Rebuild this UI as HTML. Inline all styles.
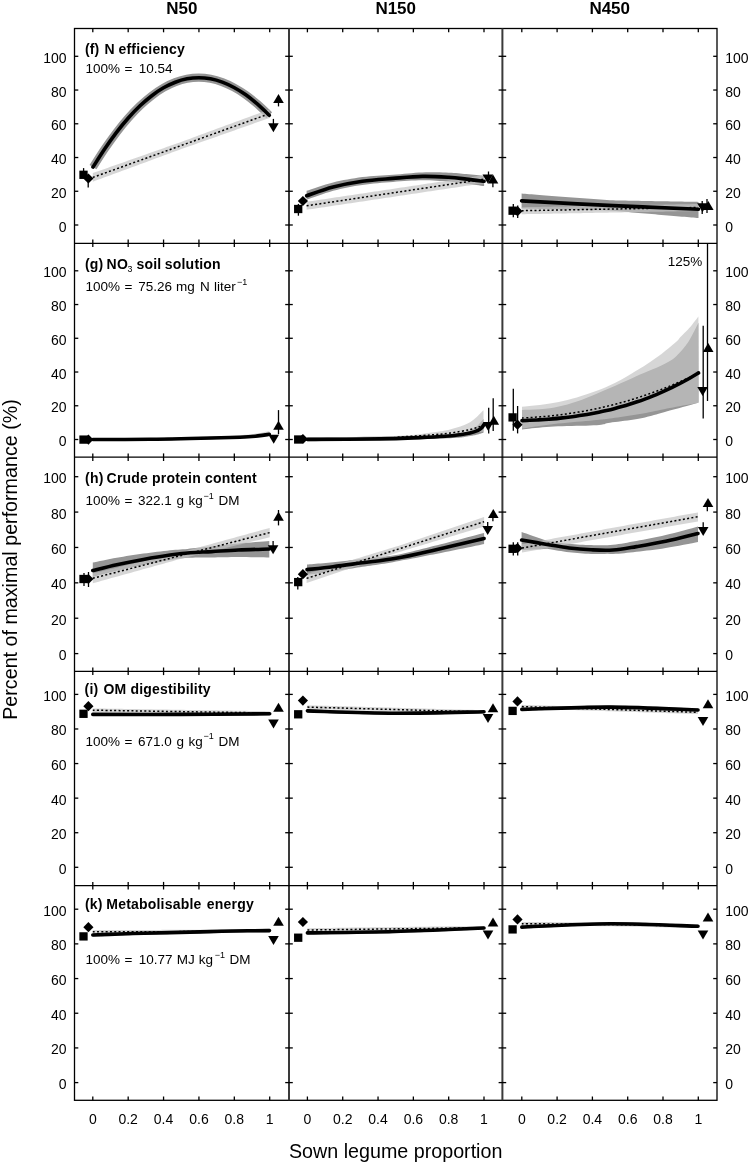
<!DOCTYPE html>
<html><head><meta charset="utf-8"><style>
html,body{margin:0;padding:0;background:#fff;width:749px;height:1163px;overflow:hidden}
svg{display:block;will-change:transform}
text{font-family:"Liberation Sans",sans-serif;fill:#000}
.t{font-size:13px}
.tk{font-size:14px}
.h{font-size:17px;font-weight:bold}
.b{font-size:14px;font-weight:bold}
.ax{font-size:19.7px}
</style></head><body>
<svg width="749" height="1163" viewBox="0 0 749 1163">
<rect width="749" height="1163" fill="#fff"/>
<g>
<path d="M93,167.1 C94.97,164.05 100.88,154.58 104.8,148.8 C108.72,143.02 112.58,137.53 116.5,132.4 C120.42,127.27 124.38,122.43 128.3,118 C132.22,113.57 136.08,109.52 140,105.8 C143.92,102.08 147.88,98.7 151.8,95.7 C155.72,92.7 159.58,90.05 163.5,87.8 C167.42,85.55 171.38,83.7 175.3,82.2 C179.22,80.7 183.08,79.55 187,78.8 C190.92,78.05 194.88,77.7 198.8,77.7 C202.72,77.7 206.58,78.07 210.5,78.8 C214.42,79.53 218.38,80.65 222.3,82.1 C226.22,83.55 230.08,85.38 234,87.5 C237.92,89.62 241.88,92.02 245.8,94.8 C249.72,97.58 253.58,100.78 257.5,104.2 C261.42,107.62 267.33,113.45 269.3,115.3" fill="none" stroke="#959595" stroke-width="8.2" stroke-linejoin="round"/>
<path d="M92.8,173.1 L95.75,172.06 L98.7,171.02 L101.64,169.98 L104.59,168.94 L107.54,167.9 L110.49,166.86 L113.44,165.82 L116.39,164.78 L119.33,163.74 L122.28,162.7 L125.23,161.66 L128.18,160.62 L131.13,159.58 L134.08,158.54 L137.02,157.5 L139.97,156.46 L142.92,155.43 L145.87,154.39 L148.82,153.35 L151.77,152.31 L154.71,151.27 L157.66,150.23 L160.61,149.19 L163.56,148.15 L166.51,147.11 L169.46,146.07 L172.4,145.03 L175.35,143.99 L178.3,142.95 L181.25,141.89 L184.2,140.8 L187.15,139.72 L190.09,138.63 L193.04,137.54 L195.99,136.46 L198.94,135.37 L201.89,134.28 L204.84,133.2 L207.78,132.11 L210.73,131.02 L213.68,129.94 L216.63,128.85 L219.58,127.77 L222.53,126.68 L225.47,125.59 L228.42,124.51 L231.37,123.42 L234.32,122.33 L237.27,121.25 L240.22,120.16 L243.16,119.07 L246.11,117.99 L249.06,116.9 L252.01,115.81 L254.96,114.73 L257.91,113.64 L260.85,112.55 L263.8,111.47 L266.75,110.38 L269.7,109.3 L269.7,117.9 L266.75,118.95 L263.8,119.99 L260.85,121.03 L257.91,122.07 L254.96,123.11 L252.01,124.15 L249.06,125.19 L246.11,126.23 L243.16,127.27 L240.22,128.31 L237.27,129.35 L234.32,130.39 L231.37,131.43 L228.42,132.47 L225.47,133.51 L222.53,134.55 L219.58,135.59 L216.63,136.63 L213.68,137.67 L210.73,138.71 L207.78,139.75 L204.84,140.79 L201.89,141.83 L198.94,142.87 L195.99,143.91 L193.04,144.95 L190.09,145.99 L187.15,147.03 L184.2,148.07 L181.25,149.11 L178.3,150.18 L175.35,151.26 L172.4,152.35 L169.46,153.44 L166.51,154.53 L163.56,155.61 L160.61,156.7 L157.66,157.79 L154.71,158.87 L151.77,159.96 L148.82,161.05 L145.87,162.13 L142.92,163.22 L139.97,164.31 L137.02,165.4 L134.08,166.48 L131.13,167.57 L128.18,168.66 L125.23,169.74 L122.28,170.83 L119.33,171.92 L116.39,173.01 L113.44,174.09 L110.49,175.18 L107.54,176.27 L104.59,177.35 L101.64,178.44 L98.7,179.53 L95.75,180.61 L92.8,181.7Z" fill="#c3c3c3" fill-opacity="0.686"/>
<path d="M92.8,177.4 L269.7,113.6" fill="none" stroke="#000" stroke-width="1.5" stroke-dasharray="2 2.3"/>
<path d="M93,167.1 C94.97,164.05 100.88,154.58 104.8,148.8 C108.72,143.02 112.58,137.53 116.5,132.4 C120.42,127.27 124.38,122.43 128.3,118 C132.22,113.57 136.08,109.52 140,105.8 C143.92,102.08 147.88,98.7 151.8,95.7 C155.72,92.7 159.58,90.05 163.5,87.8 C167.42,85.55 171.38,83.7 175.3,82.2 C179.22,80.7 183.08,79.55 187,78.8 C190.92,78.05 194.88,77.7 198.8,77.7 C202.72,77.7 206.58,78.07 210.5,78.8 C214.42,79.53 218.38,80.65 222.3,82.1 C226.22,83.55 230.08,85.38 234,87.5 C237.92,89.62 241.88,92.02 245.8,94.8 C249.72,97.58 253.58,100.78 257.5,104.2 C261.42,107.62 267.33,113.45 269.3,115.3" fill="none" stroke="#000" stroke-width="3.6" stroke-linecap="round" stroke-linejoin="round"/>
<line x1="83.6" y1="168.1" x2="83.6" y2="175" stroke="#000" stroke-width="1.3"/>
<rect x="79.35" y="170.65" width="8.3" height="8.3" fill="#000"/>
<line x1="88.2" y1="178" x2="88.2" y2="187.6" stroke="#000" stroke-width="1.3"/>
<path d="M88.4,173.4 L93.5,178.5 L88.4,183.6 L83.3,178.5 Z" fill="#000"/>
<line x1="278.5" y1="99" x2="278.5" y2="106.4" stroke="#000" stroke-width="1.3"/>
<path d="M278.5,94 L283.8,103 L273.2,103 Z" fill="#000"/>
<line x1="273.4" y1="118.9" x2="273.4" y2="127" stroke="#000" stroke-width="1.3"/>
<path d="M268.1,123.3 L278.7,123.3 L273.4,132.3 Z" fill="#000"/>
</g>
<g>
<path d="M306.6,190.81 L308.63,190.14 L311.3,189.23 L314.47,188.15 L318.02,186.95 L321.79,185.72 L325.66,184.51 L329.47,183.39 L333.1,182.43 L336.62,181.6 L340.2,180.81 L343.83,180.08 L347.49,179.39 L351.19,178.74 L354.92,178.15 L358.66,177.6 L362.4,177.1 L366.17,176.66 L369.99,176.29 L373.83,175.98 L377.69,175.71 L381.56,175.47 L385.4,175.24 L389.22,175.02 L393,174.79 L396.75,174.54 L400.5,174.26 L404.24,173.87 L407.96,173.49 L411.65,173.14 L415.29,172.83 L418.88,172.58 L422.4,172.39 L425.9,172.28 L429.42,172.23 L432.91,172.24 L436.34,172.29 L439.68,172.37 L442.89,172.47 L445.94,172.59 L448.8,172.7 L451.42,172.82 L453.82,172.96 L456.04,173.12 L458.14,173.3 L460.18,173.49 L462.2,173.69 L464.26,173.9 L466.4,174.1 L468.73,174.32 L471.23,174.56 L473.81,174.82 L476.35,175.09 L478.75,175.34 L480.92,175.57 L482.73,175.76 L484.1,175.9 L484.1,186.1 L482.73,185.91 L480.92,185.65 L478.75,185.34 L476.35,184.99 L473.81,184.63 L471.23,184.28 L468.73,183.93 L466.4,183.63 L464.26,183.34 L462.2,183.06 L460.18,182.79 L458.14,182.52 L456.04,182.26 L453.82,182.01 L451.42,181.77 L448.8,181.56 L445.94,181.34 L442.89,181.11 L439.68,180.88 L436.34,180.67 L432.91,180.49 L429.42,180.36 L425.9,180.27 L422.4,180.25 L418.88,180.3 L415.29,180.41 L411.65,180.58 L407.96,180.79 L404.24,181.03 L400.5,181.28 L396.75,181.61 L393,181.94 L389.22,182.25 L385.4,182.55 L381.56,182.86 L377.69,183.18 L373.83,183.53 L369.99,183.93 L366.17,184.38 L362.4,184.9 L358.66,185.48 L354.92,186.11 L351.19,186.78 L347.49,187.5 L343.83,188.27 L340.2,189.09 L336.62,189.95 L333.1,190.86 L329.47,191.89 L325.66,193.09 L321.79,194.38 L318.02,195.7 L314.47,196.97 L311.3,198.12 L308.63,199.09 L306.6,199.8Z" fill="#959595"/>
<path d="M306.6,201.8 L309.56,201.36 L312.51,200.91 L315.47,200.47 L318.43,200.03 L321.38,199.58 L324.34,199.14 L327.3,198.7 L330.25,198.25 L333.21,197.81 L336.17,197.37 L339.12,196.92 L342.08,196.48 L345.04,196.04 L347.99,195.59 L350.95,195.15 L353.91,194.71 L356.86,194.26 L359.82,193.82 L362.78,193.38 L365.73,192.93 L368.69,192.49 L371.65,192.05 L374.6,191.6 L377.56,191.16 L380.52,190.72 L383.47,190.27 L386.43,189.83 L389.39,189.39 L392.34,188.94 L395.3,188.5 L398.26,188.06 L401.21,187.61 L404.17,187.17 L407.13,186.73 L410.08,186.28 L413.04,185.84 L416,185.4 L418.95,184.95 L421.91,184.51 L424.87,184.07 L427.82,183.62 L430.78,183.18 L433.74,182.74 L436.69,182.29 L439.65,181.85 L442.61,181.41 L445.56,180.96 L448.52,180.52 L451.48,180.08 L454.43,179.63 L457.39,179.19 L460.35,178.75 L463.3,178.3 L466.26,177.86 L469.22,177.42 L472.17,176.97 L475.13,176.53 L478.09,176.09 L481.04,175.64 L484,175.2 L484,183.2 L481.04,183.64 L478.09,184.09 L475.13,184.53 L472.17,184.97 L469.22,185.42 L466.26,185.86 L463.3,186.3 L460.35,186.75 L457.39,187.19 L454.43,187.63 L451.48,188.08 L448.52,188.52 L445.56,188.96 L442.61,189.41 L439.65,189.85 L436.69,190.29 L433.74,190.74 L430.78,191.18 L427.82,191.62 L424.87,192.07 L421.91,192.51 L418.95,192.95 L416,193.4 L413.04,193.84 L410.08,194.28 L407.13,194.73 L404.17,195.17 L401.21,195.61 L398.26,196.06 L395.3,196.5 L392.34,196.94 L389.39,197.39 L386.43,197.83 L383.47,198.27 L380.52,198.72 L377.56,199.16 L374.6,199.6 L371.65,200.05 L368.69,200.49 L365.73,200.93 L362.78,201.38 L359.82,201.82 L356.86,202.26 L353.91,202.71 L350.95,203.15 L347.99,203.59 L345.04,204.04 L342.08,204.48 L339.12,204.92 L336.17,205.37 L333.21,205.81 L330.25,206.25 L327.3,206.7 L324.34,207.14 L321.38,207.58 L318.43,208.03 L315.47,208.47 L312.51,208.91 L309.56,209.36 L306.6,209.8Z" fill="#c3c3c3" fill-opacity="0.686"/>
<path d="M306.6,205.8 L484,179.2" fill="none" stroke="#000" stroke-width="1.5" stroke-dasharray="2 2.3"/>
<path d="M306.6,195.8 C311.02,194.33 323.8,189.43 333.1,187 C342.4,184.57 352.42,182.63 362.4,181.2 C372.38,179.77 383,179.2 393,178.4 C403,177.6 413.1,176.58 422.4,176.4 C431.7,176.22 441.47,176.85 448.8,177.3 C456.13,177.75 460.52,178.43 466.4,179.1 C472.28,179.77 481.15,180.93 484.1,181.3" fill="none" stroke="#000" stroke-width="3.6" stroke-linecap="round" stroke-linejoin="round"/>
<line x1="298.4" y1="203.9" x2="298.4" y2="215.7" stroke="#000" stroke-width="1.3"/>
<rect x="294.05" y="204.85" width="8.3" height="8.3" fill="#000"/>
<path d="M302.9,195.9 L308,201 L302.9,206.1 L297.8,201 Z" fill="#000"/>
<line x1="488.5" y1="171.5" x2="488.5" y2="179" stroke="#000" stroke-width="1.3"/>
<path d="M482.5,174.4 L493.1,174.4 L487.8,183.4 Z" fill="#000"/>
<line x1="492.9" y1="179" x2="492.9" y2="187.2" stroke="#000" stroke-width="1.3"/>
<path d="M493,174.5 L498.3,183.5 L487.7,183.5 Z" fill="#000"/>
</g>
<g>
<path d="M521.6,193.61 L523.23,193.74 L525.05,193.87 L527.06,194.03 L529.26,194.19 L531.61,194.37 L534.12,194.57 L536.78,194.77 L539.57,194.98 L542.49,195.21 L545.51,195.44 L548.64,195.68 L551.86,195.92 L555.16,196.17 L558.53,196.43 L561.96,196.69 L565.43,196.96 L568.94,197.22 L572.48,197.49 L576.03,197.76 L579.59,198.02 L583.13,198.29 L586.67,198.55 L590.17,198.81 L593.64,199.07 L597.05,199.32 L600.4,199.57 L603.69,199.8 L606.89,200.04 L610,200.26 L613,200.33 L615.99,200.4 L619.05,200.46 L622.17,200.53 L625.35,200.6 L628.58,200.66 L631.85,200.73 L635.14,200.79 L638.45,200.85 L641.78,200.92 L645.1,200.98 L648.42,201.04 L651.73,201.1 L655.01,201.15 L658.26,201.21 L661.46,201.27 L664.62,201.32 L667.71,201.37 L670.74,201.42 L673.69,201.47 L676.55,201.52 L679.32,201.57 L681.98,201.61 L684.54,201.65 L686.97,201.69 L689.27,201.73 L691.43,201.77 L693.44,201.8 L695.29,201.83 L696.98,201.86 L698.5,201.9 L698.5,218 L696.98,217.89 L695.29,217.75 L693.44,217.59 L691.43,217.42 L689.27,217.24 L686.97,217.05 L684.54,216.85 L681.98,216.64 L679.32,216.41 L676.55,216.18 L673.69,215.94 L670.74,215.69 L667.71,215.44 L664.62,215.18 L661.46,214.92 L658.26,214.65 L655.01,214.37 L651.73,214.09 L648.42,213.81 L645.1,213.53 L641.78,213.25 L638.45,212.96 L635.14,212.68 L631.85,212.39 L628.58,212.11 L625.35,211.83 L622.17,211.55 L619.05,211.27 L615.99,211 L613,210.73 L610,210.46 L606.89,210.4 L603.69,210.34 L600.4,210.27 L597.05,210.2 L593.64,210.13 L590.17,210.06 L586.67,209.98 L583.13,209.91 L579.59,209.83 L576.03,209.75 L572.48,209.67 L568.94,209.59 L565.43,209.51 L561.96,209.43 L558.53,209.35 L555.16,209.27 L551.86,209.19 L548.64,209.12 L545.51,209.04 L542.49,208.97 L539.57,208.9 L536.78,208.84 L534.12,208.77 L531.61,208.71 L529.26,208.66 L527.06,208.61 L525.05,208.56 L523.23,208.52 L521.6,208.48Z" fill="#959595"/>
<path d="M521.6,207.2 L524.54,207.15 L527.48,207.09 L530.42,207.04 L533.36,206.99 L536.3,206.93 L539.24,206.88 L542.18,206.83 L545.12,206.77 L548.06,206.72 L551,206.67 L553.94,206.61 L556.88,206.56 L559.82,206.51 L562.76,206.45 L565.7,206.4 L568.64,206.35 L571.58,206.29 L574.52,206.24 L577.46,206.19 L580.4,206.13 L583.34,206.08 L586.28,206.03 L589.22,205.97 L592.16,205.92 L595.1,205.87 L598.04,205.81 L600.98,205.76 L603.92,205.71 L606.86,205.65 L609.8,205.6 L612.74,205.55 L615.68,205.49 L618.62,205.44 L621.56,205.39 L624.5,205.33 L627.44,205.28 L630.38,205.23 L633.32,205.17 L636.26,205.12 L639.2,205.07 L642.14,205.01 L645.08,204.96 L648.02,204.91 L650.96,204.85 L653.9,204.8 L656.84,204.75 L659.78,204.69 L662.72,204.64 L665.66,204.59 L668.6,204.53 L671.54,204.48 L674.48,204.43 L677.42,204.37 L680.36,204.32 L683.3,204.27 L686.24,204.21 L689.18,204.16 L692.12,204.11 L695.06,204.05 L698,204 L698,211 L695.06,211.05 L692.12,211.11 L689.18,211.16 L686.24,211.21 L683.3,211.27 L680.36,211.32 L677.42,211.37 L674.48,211.43 L671.54,211.48 L668.6,211.53 L665.66,211.59 L662.72,211.64 L659.78,211.69 L656.84,211.75 L653.9,211.8 L650.96,211.85 L648.02,211.91 L645.08,211.96 L642.14,212.01 L639.2,212.07 L636.26,212.12 L633.32,212.17 L630.38,212.23 L627.44,212.28 L624.5,212.33 L621.56,212.39 L618.62,212.44 L615.68,212.49 L612.74,212.55 L609.8,212.6 L606.86,212.65 L603.92,212.71 L600.98,212.76 L598.04,212.81 L595.1,212.87 L592.16,212.92 L589.22,212.97 L586.28,213.03 L583.34,213.08 L580.4,213.13 L577.46,213.19 L574.52,213.24 L571.58,213.29 L568.64,213.35 L565.7,213.4 L562.76,213.45 L559.82,213.51 L556.88,213.56 L553.94,213.61 L551,213.67 L548.06,213.72 L545.12,213.77 L542.18,213.83 L539.24,213.88 L536.3,213.93 L533.36,213.99 L530.42,214.04 L527.48,214.09 L524.54,214.15 L521.6,214.2Z" fill="#c3c3c3" fill-opacity="0.686"/>
<path d="M521.6,210.7 L698,207.5" fill="none" stroke="#000" stroke-width="1.5" stroke-dasharray="2 2.3"/>
<path d="M521.6,200.9 C536.83,201.68 583.52,204.22 613,205.6 C642.48,206.98 684.25,208.6 698.5,209.2" fill="none" stroke="#000" stroke-width="3.6" stroke-linecap="round" stroke-linejoin="round"/>
<line x1="513.3" y1="204" x2="513.3" y2="217.3" stroke="#000" stroke-width="1.3"/>
<rect x="508.45" y="206.55" width="8.3" height="8.3" fill="#000"/>
<line x1="517.7" y1="205.6" x2="517.7" y2="218" stroke="#000" stroke-width="1.3"/>
<path d="M517.5,206.1 L522.6,211.2 L517.5,216.3 L512.4,211.2 Z" fill="#000"/>
<line x1="702.2" y1="201" x2="702.2" y2="214" stroke="#000" stroke-width="1.3"/>
<path d="M697.2,203.3 L707.8,203.3 L702.5,212.3 Z" fill="#000"/>
<line x1="707" y1="199" x2="707" y2="213" stroke="#000" stroke-width="1.3"/>
<path d="M708.3,201.1 L713.6,210.1 L703,210.1 Z" fill="#000"/>
</g>
<g>
<path d="M92.8,438.3 L95.62,438.29 L99.22,438.29 L103.48,438.28 L108.27,438.27 L113.45,438.26 L118.9,438.25 L124.49,438.24 L130.09,438.22 L135.57,438.2 L140.8,438.17 L145.65,438.14 L150,438.1 L153.9,438.06 L157.55,438.01 L160.97,437.95 L164.24,437.9 L167.38,437.83 L170.45,437.77 L173.5,437.7 L176.56,437.63 L179.7,437.55 L182.95,437.47 L186.37,437.39 L190,437.3 L193.92,437.21 L198.13,437.11 L202.55,437.01 L207.11,436.9 L211.74,436.79 L216.38,436.68 L220.93,436.57 L225.33,436.45 L229.52,436.34 L233.4,436.22 L236.92,436.11 L240,436 L242.64,435.89 L244.93,435.79 L246.91,435.68 L248.62,435.58 L250.11,435.47 L251.42,435.37 L252.6,435.26 L253.68,435.16 L254.72,435.05 L255.76,434.93 L256.84,434.82 L258,434.7 L259.21,434.57 L260.4,434.43 L261.56,434.28 L262.68,434.13 L263.76,433.97 L264.78,433.82 L265.73,433.67 L266.62,433.53 L267.43,433.39 L268.15,433.28 L268.78,433.18 L269.3,433.1 L269.3,435.5 L268.78,435.58 L268.15,435.68 L267.43,435.79 L266.62,435.93 L265.73,436.07 L264.78,436.22 L263.76,436.37 L262.68,436.53 L261.56,436.68 L260.4,436.83 L259.21,436.97 L258,437.1 L256.84,437.22 L255.76,437.33 L254.72,437.45 L253.68,437.56 L252.6,437.66 L251.42,437.77 L250.11,437.87 L248.62,437.98 L246.91,438.08 L244.93,438.19 L242.64,438.29 L240,438.4 L236.92,438.51 L233.4,438.62 L229.52,438.74 L225.33,438.85 L220.93,438.97 L216.38,439.08 L211.74,439.19 L207.11,439.3 L202.55,439.41 L198.13,439.51 L193.92,439.61 L190,439.7 L186.37,439.79 L182.95,439.87 L179.7,439.95 L176.56,440.03 L173.5,440.1 L170.45,440.17 L167.38,440.23 L164.24,440.3 L160.97,440.35 L157.55,440.41 L153.9,440.46 L150,440.5 L145.65,440.54 L140.8,440.57 L135.57,440.6 L130.09,440.62 L124.49,440.64 L118.9,440.65 L113.45,440.66 L108.27,440.67 L103.48,440.68 L99.22,440.69 L95.62,440.69 L92.8,440.7Z" fill="#959595"/>
<path d="M92.8,438.6 L95.62,438.58 L99.22,438.55 L103.48,438.53 L108.27,438.5 L113.45,438.47 L118.9,438.43 L124.49,438.39 L130.09,438.35 L135.57,438.31 L140.8,438.26 L145.65,438.21 L150,438.15 L153.9,438.09 L157.55,438.02 L160.97,437.96 L164.24,437.89 L167.38,437.82 L170.45,437.74 L173.5,437.66 L176.56,437.57 L179.7,437.48 L182.95,437.39 L186.37,437.28 L190,437.17 L193.92,437.06 L198.13,436.93 L202.55,436.79 L207.11,436.65 L211.74,436.5 L216.38,436.35 L220.93,436.2 L225.33,436.05 L229.52,435.89 L233.4,435.67 L236.92,435.45 L240,435.24 L242.64,435.05 L244.93,434.87 L246.91,434.7 L248.62,434.54 L250.11,434.38 L251.42,434.23 L252.6,434.07 L253.68,433.92 L254.72,433.77 L255.76,433.61 L256.84,433.45 L258,433.28 L259.21,433.1 L260.4,432.9 L261.56,432.7 L262.68,432.49 L263.76,432.27 L264.78,432.06 L265.73,431.86 L266.62,431.67 L267.43,431.49 L268.15,431.33 L268.78,431.2 L269.3,431.1 L269.3,434.6 L268.78,434.69 L268.15,434.81 L267.43,434.95 L266.62,435.11 L265.73,435.28 L264.78,435.46 L263.76,435.64 L262.68,435.83 L261.56,436.01 L260.4,436.18 L259.21,436.35 L258,436.5 L256.84,436.64 L255.76,436.77 L254.72,436.9 L253.68,437.03 L252.6,437.15 L251.42,437.27 L250.11,437.4 L248.62,437.51 L246.91,437.63 L244.93,437.75 L242.64,437.88 L240,438 L236.92,438.13 L233.4,438.26 L229.52,438.39 L225.33,438.53 L220.93,438.66 L216.38,438.79 L211.74,438.92 L207.11,439.05 L202.55,439.17 L198.13,439.29 L193.92,439.4 L190,439.5 L186.37,439.59 L182.95,439.68 L179.7,439.76 L176.56,439.84 L173.5,439.91 L170.45,439.98 L167.38,440.04 L164.24,440.1 L160.97,440.16 L157.55,440.21 L153.9,440.26 L150,440.3 L145.65,440.34 L140.8,440.37 L135.57,440.4 L130.09,440.42 L124.49,440.44 L118.9,440.45 L113.45,440.46 L108.27,440.47 L103.48,440.48 L99.22,440.49 L95.62,440.49 L92.8,440.5Z" fill="#c3c3c3" fill-opacity="0.686"/>
<path d="M92.8,439.5 C102.33,439.47 133.8,439.47 150,439.3 C166.2,439.13 175,438.88 190,438.5 C205,438.12 228.67,437.5 240,437 C251.33,436.5 253.12,436.07 258,435.5 C262.88,434.93 267.42,433.92 269.3,433.6" fill="none" stroke="#000" stroke-width="1.5" stroke-dasharray="2 2.3"/>
<path d="M92.8,439.5 C102.33,439.47 133.8,439.47 150,439.3 C166.2,439.13 175,438.85 190,438.5 C205,438.15 228.67,437.63 240,437.2 C251.33,436.77 253.12,436.38 258,435.9 C262.88,435.42 267.42,434.57 269.3,434.3" fill="none" stroke="#000" stroke-width="3.6" stroke-linecap="round" stroke-linejoin="round"/>
<rect x="79.35" y="435.45" width="8.3" height="8.3" fill="#000"/>
<path d="M88.4,434.5 L93.5,439.6 L88.4,444.7 L83.3,439.6 Z" fill="#000"/>
<line x1="278.5" y1="410.1" x2="278.5" y2="434.2" stroke="#000" stroke-width="1.3"/>
<path d="M278.5,420.8 L283.8,429.8 L273.2,429.8 Z" fill="#000"/>
<path d="M268.4,434.8 L279,434.8 L273.7,443.8 Z" fill="#000"/>
</g>
<g>
<path d="M307.4,437.6 L311.16,437.54 L315.75,437.47 L321.09,437.4 L327.08,437.33 L333.63,437.25 L340.67,437.16 L348.09,437.06 L355.82,436.97 L363.76,436.86 L371.82,436.75 L379.93,436.63 L387.98,436.51 L395.9,436.38 L403.58,436.25 L410.96,436.1 L417.92,435.96 L424.4,435.8 L430.3,435.64 L435.53,435.47 L440,435.3 L443.83,435.12 L447.23,434.95 L450.22,434.78 L452.83,434.61 L455.1,434.43 L457.06,434.25 L458.74,434.07 L460.18,433.88 L461.4,433.68 L462.44,433.48 L463.34,433.26 L464.11,433.02 L464.8,432.77 L465.44,432.51 L466.06,432.23 L466.7,431.93 L467.38,431.61 L468.13,431.26 L468.99,430.89 L470,430.5 L471.06,430.06 L472.08,429.57 L473.05,429.03 L473.97,428.44 L474.85,427.83 L475.69,427.18 L476.48,426.51 L477.24,425.83 L477.95,425.14 L478.62,424.45 L479.26,423.77 L479.86,423.09 L480.43,422.44 L480.96,421.82 L481.46,421.22 L481.93,420.67 L482.36,420.17 L482.77,419.71 L483.15,419.32 L483.5,419 L483.5,432.7 L483.15,432.79 L482.77,432.9 L482.36,433.02 L481.93,433.16 L481.46,433.31 L480.96,433.47 L480.43,433.64 L479.86,433.82 L479.26,434 L478.62,434.19 L477.95,434.38 L477.24,434.57 L476.48,434.77 L475.69,434.96 L474.85,435.15 L473.97,435.33 L473.05,435.51 L472.08,435.68 L471.06,435.85 L470,436 L468.99,436.15 L468.13,436.29 L467.38,436.43 L466.7,436.56 L466.06,436.7 L465.44,436.83 L464.8,436.96 L464.11,437.09 L463.34,437.21 L462.44,437.34 L461.4,437.46 L460.18,437.59 L458.74,437.71 L457.06,437.83 L455.1,437.96 L452.83,438.08 L450.22,438.21 L447.23,438.34 L443.83,438.47 L440,438.6 L435.53,438.74 L430.3,438.88 L424.4,439.03 L417.92,439.18 L410.96,439.33 L403.58,439.49 L395.9,439.65 L387.98,439.8 L379.93,439.96 L371.82,440.11 L363.76,440.26 L355.82,440.41 L348.09,440.55 L340.67,440.69 L333.63,440.81 L327.08,440.93 L321.09,441.04 L315.75,441.14 L311.16,441.23 L307.4,441.3Z" fill="#959595"/>
<path d="M307.4,438 L312.07,437.9 L318.2,437.77 L325.51,437.63 L333.73,437.46 L342.59,437.28 L351.83,437.09 L361.17,436.89 L370.34,436.68 L379.08,436.46 L387.12,436.24 L394.18,436.02 L400,435.8 L404.72,435.57 L408.74,435.34 L412.14,435.09 L415.01,434.84 L417.44,434.58 L419.54,434.31 L421.38,434.04 L423.06,433.77 L424.67,433.5 L426.3,433.23 L428.05,432.96 L430,432.7 L432.02,432.45 L433.91,432.22 L435.7,432 L437.41,431.79 L439.04,431.58 L440.62,431.36 L442.17,431.13 L443.7,430.87 L445.23,430.59 L446.78,430.27 L448.37,429.91 L450,429.5 L451.69,429.05 L453.41,428.57 L455.15,428.07 L456.91,427.54 L458.66,426.99 L460.41,426.4 L462.13,425.78 L463.81,425.13 L465.46,424.45 L467.04,423.74 L468.56,422.99 L470,422.2 L471.4,421.33 L472.78,420.33 L474.15,419.25 L475.48,418.1 L476.77,416.93 L478,415.74 L479.16,414.59 L480.24,413.49 L481.23,412.47 L482.11,411.56 L482.87,410.79 L483.5,410.2 L483.5,431.8 L483.01,431.82 L482.43,431.84 L481.77,431.86 L481.04,431.88 L480.24,431.9 L479.38,431.92 L478.47,431.95 L477.52,431.98 L476.52,432.02 L475.48,432.07 L474.42,432.13 L473.33,432.2 L472.23,432.29 L471.12,432.39 L470,432.5 L468.92,432.63 L467.89,432.78 L466.9,432.95 L465.91,433.13 L464.93,433.32 L463.91,433.52 L462.84,433.73 L461.7,433.95 L460.47,434.17 L459.13,434.39 L457.65,434.62 L456.02,434.84 L454.22,435.07 L452.22,435.29 L450,435.5 L447.63,435.71 L445.16,435.94 L442.6,436.17 L439.93,436.4 L437.13,436.64 L434.2,436.88 L431.13,437.11 L427.9,437.35 L424.51,437.58 L420.93,437.81 L417.17,438.03 L413.21,438.24 L409.03,438.44 L404.63,438.63 L400,438.8 L394.87,438.96 L389.07,439.12 L382.72,439.27 L375.95,439.41 L368.86,439.55 L361.58,439.68 L354.24,439.8 L346.94,439.91 L339.82,440.02 L332.99,440.12 L326.56,440.21 L320.68,440.29 L315.44,440.37 L310.97,440.44 L307.4,440.5Z" fill="#c3c3c3" fill-opacity="0.686"/>
<path d="M307.4,439.3 C319.5,439.17 364.57,438.88 380,438.5 C395.43,438.12 391.67,437.58 400,437 C408.33,436.42 421.67,435.65 430,435 C438.33,434.35 443.33,434.02 450,433.1 C456.67,432.18 464.42,430.78 470,429.5 C475.58,428.22 481.25,426.08 483.5,425.4" fill="none" stroke="#000" stroke-width="1.5" stroke-dasharray="2 2.3"/>
<path d="M307.4,439.4 C319.5,439.32 361.23,439.2 380,438.9 C398.77,438.6 409.17,438.03 420,437.6 C430.83,437.17 438.33,436.78 445,436.3 C451.67,435.82 455.83,435.25 460,434.7 C464.17,434.15 467,433.73 470,433 C473,432.27 476.08,431.13 478,430.3 C479.92,429.47 480.5,428.97 481.5,428 C482.5,427.03 483.58,425.08 484,424.5" fill="none" stroke="#000" stroke-width="3.6" stroke-linecap="round" stroke-linejoin="round"/>
<rect x="294.05" y="435.35" width="8.3" height="8.3" fill="#000"/>
<path d="M302.9,433.9 L308,439 L302.9,444.1 L297.8,439 Z" fill="#000"/>
<line x1="488.7" y1="407.8" x2="488.7" y2="433.5" stroke="#000" stroke-width="1.3"/>
<path d="M482.9,422.1 L493.5,422.1 L488.2,431.1 Z" fill="#000"/>
<line x1="493.2" y1="398.2" x2="493.2" y2="431" stroke="#000" stroke-width="1.3"/>
<path d="M493.8,415.7 L499.1,424.7 L488.5,424.7 Z" fill="#000"/>
</g>
<g>
<path d="M522,410 L525.06,409.86 L529.3,409.71 L534.33,409.52 L539.72,409.23 L545.08,408.8 L550,408.2 L554.46,407.45 L558.79,406.58 L563.08,405.58 L567.44,404.42 L571.98,403.07 L576.8,401.5 L582,399.64 L587.51,397.5 L593.2,395.17 L598.93,392.74 L604.58,390.32 L610,388 L615.32,385.7 L620.66,383.32 L625.91,380.95 L630.96,378.66 L635.69,376.51 L640,374.6 L643.83,372.96 L647.24,371.54 L650.35,370.28 L653.23,369.1 L655.99,367.93 L658.7,366.7 L661.36,365.45 L663.89,364.24 L666.28,363.04 L668.55,361.82 L670.69,360.55 L672.7,359.2 L674.57,357.74 L676.28,356.2 L677.87,354.61 L679.35,353.01 L680.75,351.42 L682.1,349.9 L683.36,348.46 L684.51,347.07 L685.59,345.71 L686.61,344.33 L687.6,342.91 L688.6,341.4 L689.6,339.78 L690.59,338.06 L691.54,336.29 L692.47,334.53 L693.36,332.82 L694.2,331.2 L695.03,329.6 L695.86,327.96 L696.65,326.36 L697.36,324.91 L697.96,323.69 L698.4,322.8 L698.6,402.6 L696.49,403.19 L693.72,403.96 L690.43,404.88 L686.74,405.91 L682.8,407.01 L678.74,408.14 L674.69,409.26 L670.8,410.34 L667.19,411.33 L664,412.2 L661.2,412.97 L658.62,413.7 L656.21,414.4 L653.92,415.06 L651.71,415.69 L649.52,416.29 L647.31,416.87 L645.01,417.43 L642.6,417.97 L640,418.5 L637.17,419.01 L634.12,419.5 L630.91,419.97 L627.63,420.41 L624.33,420.84 L621.08,421.24 L617.95,421.63 L615.02,422 L612.35,422.36 L610,422.7 L608.13,423.02 L606.76,423.33 L605.74,423.61 L604.93,423.88 L604.2,424.13 L603.4,424.37 L602.41,424.59 L601.07,424.8 L599.24,425.01 L596.8,425.2 L593.67,425.37 L589.96,425.51 L585.8,425.63 L581.29,425.73 L576.57,425.82 L571.76,425.92 L566.98,426.03 L562.34,426.16 L557.98,426.31 L554,426.5 L550.22,426.74 L546.4,427.02 L542.6,427.34 L538.89,427.68 L535.33,428.03 L531.98,428.37 L528.91,428.69 L526.18,428.98 L523.86,429.22 L522,429.4Z" fill="#959595"/>
<path d="M522,406.7 L525.06,406.39 L529.3,405.98 L534.33,405.48 L539.72,404.9 L545.08,404.24 L550,403.5 L554.46,402.72 L558.79,401.9 L563.08,401.01 L567.44,399.99 L571.98,398.8 L576.8,397.4 L582,395.78 L587.51,393.99 L593.2,392.02 L598.93,389.9 L604.58,387.66 L610,385.3 L615.32,382.72 L620.66,379.89 L625.91,376.93 L630.96,373.96 L635.69,371.11 L640,368.5 L643.79,366.19 L647.12,364.07 L650.14,362.07 L652.99,360.12 L655.8,358.12 L658.7,356 L661.82,353.64 L665.06,351.09 L668.27,348.5 L671.27,346.02 L673.9,343.8 L676,342 L677.38,340.75 L678.14,339.96 L678.53,339.43 L678.8,338.97 L679.21,338.39 L680,337.5 L681.24,336.23 L682.75,334.72 L684.39,333.09 L686.03,331.45 L687.54,329.91 L688.8,328.6 L689.75,327.55 L690.5,326.69 L691.11,325.93 L691.68,325.2 L692.28,324.42 L693,323.5 L693.89,322.36 L694.91,321.05 L695.96,319.68 L696.96,318.39 L697.8,317.28 L698.4,316.5 L698.6,402.8 L696.9,403.11 L694.73,403.49 L692.17,403.95 L689.29,404.47 L686.18,405.03 L682.91,405.61 L679.58,406.22 L676.27,406.83 L673.05,407.42 L670,408 L667.06,408.57 L664.09,409.17 L661.1,409.79 L658.1,410.41 L655.09,411.04 L652.07,411.67 L649.04,412.29 L646.02,412.88 L643.01,413.46 L640,414 L636.92,414.52 L633.73,415.04 L630.47,415.55 L627.19,416.05 L623.95,416.53 L620.79,416.99 L617.77,417.42 L614.92,417.82 L612.32,418.18 L610,418.5 L608.13,418.76 L606.76,418.95 L605.74,419.09 L604.93,419.2 L604.2,419.28 L603.4,419.36 L602.41,419.46 L601.07,419.59 L599.24,419.76 L596.8,420 L593.67,420.3 L589.96,420.63 L585.8,421 L581.29,421.4 L576.57,421.81 L571.76,422.24 L566.98,422.68 L562.34,423.13 L557.98,423.57 L554,424 L550.22,424.45 L546.4,424.94 L542.6,425.45 L538.89,425.98 L535.33,426.5 L531.98,427 L528.91,427.46 L526.18,427.88 L523.86,428.23 L522,428.5Z" fill="#c3c3c3" fill-opacity="0.686"/>
<path d="M522,417.96 C523.22,417.9 526.87,417.73 529.3,417.59 C531.74,417.45 534.17,417.3 536.61,417.12 C539.04,416.94 541.48,416.74 543.91,416.53 C546.35,416.31 548.78,416.07 551.22,415.82 C553.65,415.56 556.09,415.28 558.52,414.98 C560.96,414.69 563.39,414.37 565.83,414.03 C568.26,413.69 570.7,413.33 573.13,412.95 C575.57,412.57 578,412.17 580.43,411.75 C582.87,411.33 585.3,410.88 587.74,410.42 C590.17,409.95 592.61,409.46 595.04,408.95 C597.48,408.44 599.91,407.91 602.35,407.36 C604.78,406.8 607.22,406.23 609.65,405.63 C612.09,405.03 614.52,404.41 616.96,403.76 C619.39,403.12 621.83,402.45 624.26,401.76 C626.7,401.07 629.13,400.35 631.57,399.61 C634,398.88 636.43,398.11 638.87,397.33 C641.3,396.54 643.74,395.73 646.17,394.9 C648.61,394.06 651.04,393.21 653.48,392.32 C655.91,391.44 658.35,390.53 660.78,389.6 C663.22,388.66 665.65,387.71 668.09,386.72 C670.52,385.74 672.96,384.73 675.39,383.7 C677.83,382.66 680.26,381.6 682.7,380.52 C685.13,379.43 688.78,377.74 690,377.18" fill="none" stroke="#000" stroke-width="1.5" stroke-dasharray="2 2.3"/>
<path d="M522,420.6 C523.28,420.55 527.12,420.43 529.68,420.32 C532.24,420.21 534.8,420.09 537.36,419.94 C539.92,419.8 542.48,419.64 545.03,419.46 C547.59,419.27 550.15,419.07 552.71,418.85 C555.27,418.63 557.83,418.39 560.39,418.12 C562.95,417.85 565.51,417.56 568.07,417.25 C570.63,416.93 573.19,416.6 575.75,416.23 C578.31,415.87 580.87,415.48 583.43,415.06 C585.99,414.65 588.54,414.2 591.1,413.73 C593.66,413.26 596.22,412.76 598.78,412.23 C601.34,411.69 603.9,411.13 606.46,410.54 C609.02,409.94 611.58,409.32 614.14,408.66 C616.7,408 619.26,407.31 621.82,406.59 C624.38,405.86 626.94,405.1 629.5,404.3 C632.06,403.5 634.61,402.67 637.17,401.8 C639.73,400.93 642.29,400.02 644.85,399.07 C647.41,398.12 649.97,397.14 652.53,396.11 C655.09,395.08 657.65,394.01 660.21,392.9 C662.77,391.79 665.33,390.64 667.89,389.44 C670.45,388.24 673.01,387 675.57,385.72 C678.12,384.43 680.68,383.1 683.24,381.72 C685.8,380.34 688.36,378.92 690.92,377.45 C693.48,375.98 697.32,373.65 698.6,372.89" fill="none" stroke="#000" stroke-width="3.6" stroke-linecap="round" stroke-linejoin="round"/>
<line x1="513.3" y1="388.7" x2="513.3" y2="430.7" stroke="#000" stroke-width="1.3"/>
<rect x="508.45" y="413.25" width="8.3" height="8.3" fill="#000"/>
<line x1="517.6" y1="406" x2="517.6" y2="433.4" stroke="#000" stroke-width="1.3"/>
<path d="M517.5,419.6 L522.6,424.7 L517.5,429.8 L512.4,424.7 Z" fill="#000"/>
<line x1="703.2" y1="325.8" x2="703.2" y2="418.6" stroke="#000" stroke-width="1.3"/>
<path d="M697.3,387.1 L707.9,387.1 L702.6,396.1 Z" fill="#000"/>
<line x1="707.5" y1="243.3" x2="707.5" y2="401" stroke="#000" stroke-width="1.3"/>
<path d="M708.2,343.1 L713.5,352.1 L702.9,352.1 Z" fill="#000"/>
</g>
<g>
<path d="M92.8,562.53 L94.62,562.16 L97.03,561.66 L99.89,561.07 L103.08,560.41 L106.48,559.72 L109.97,559.02 L113.42,558.36 L116.7,557.76 L119.9,557.21 L123.18,556.66 L126.51,556.12 L129.88,555.59 L133.26,555.07 L136.66,554.57 L140.04,554.08 L143.4,553.61 L146.78,553.15 L150.23,552.69 L153.71,552.24 L157.17,551.81 L160.59,551.4 L163.9,551.02 L167.09,550.67 L170.1,550.36 L172.9,550.09 L175.51,549.86 L177.98,549.67 L180.36,549.5 L182.7,549.36 L185.06,549.23 L187.47,548.89 L190,548.56 L192.59,548.24 L195.18,547.95 L197.79,547.69 L200.42,547.43 L203.12,547.17 L205.88,546.91 L208.74,546.63 L211.7,546.33 L214.77,546 L217.92,545.65 L221.16,545.28 L224.48,544.91 L227.86,544.53 L231.31,544.16 L234.83,543.8 L238.4,543.46 L242.27,543.11 L246.55,542.75 L251.04,542.39 L255.52,542.04 L259.79,541.71 L263.65,541.42 L266.89,541.17 L269.3,541 L269.3,557.4 L266.89,557.38 L263.65,557.33 L259.79,557.27 L255.52,557.21 L251.04,557.15 L246.55,557.1 L242.27,557.06 L238.4,557.05 L234.83,557.07 L231.31,557.11 L227.86,557.16 L224.48,557.23 L221.16,557.3 L217.92,557.36 L214.77,557.43 L211.7,557.48 L208.74,557.51 L205.88,557.52 L203.12,557.53 L200.42,557.54 L197.79,557.56 L195.18,557.59 L192.59,557.64 L190,557.72 L187.47,557.82 L185.06,557.93 L182.7,558.2 L180.36,558.49 L177.98,558.81 L175.51,559.16 L172.9,559.55 L170.1,559.99 L167.09,560.49 L163.9,561.03 L160.59,561.62 L157.17,562.24 L153.71,562.89 L150.23,563.56 L146.78,564.23 L143.4,564.91 L140.04,565.59 L136.66,566.29 L133.26,567 L129.88,567.73 L126.51,568.47 L123.18,569.22 L119.9,569.97 L116.7,570.72 L113.42,571.53 L109.97,572.4 L106.48,573.31 L103.08,574.22 L99.89,575.08 L97.03,575.85 L94.62,576.5 L92.8,576.98Z" fill="#959595"/>
<path d="M92.8,573.32 L95.75,572.61 L98.7,571.91 L101.64,571.2 L104.59,570.5 L107.54,569.79 L110.49,569.09 L113.44,568.38 L116.39,567.68 L119.33,566.97 L122.28,566.27 L125.23,565.56 L128.18,564.86 L131.13,564.16 L134.08,563.45 L137.02,562.75 L139.97,562.04 L142.92,561.34 L145.87,560.63 L148.82,559.93 L151.77,559.22 L154.71,558.52 L157.66,557.81 L160.61,557.11 L163.56,556.41 L166.51,555.7 L169.46,555 L172.4,554.29 L175.35,553.59 L178.3,552.88 L181.25,552.18 L184.2,551.47 L187.15,550.69 L190.09,549.87 L193.04,549.06 L195.99,548.25 L198.94,547.43 L201.89,546.62 L204.84,545.8 L207.78,544.99 L210.73,544.17 L213.68,543.36 L216.63,542.55 L219.58,541.73 L222.53,540.92 L225.47,540.1 L228.42,539.29 L231.37,538.47 L234.32,537.66 L237.27,536.84 L240.22,536.03 L243.16,535.22 L246.11,534.4 L249.06,533.59 L252.01,532.77 L254.96,531.96 L257.91,531.14 L260.85,530.33 L263.8,529.52 L266.75,528.7 L269.7,527.9 L269.7,537.3 L266.75,538.02 L263.8,538.73 L260.85,539.44 L257.91,540.15 L254.96,540.86 L252.01,541.57 L249.06,542.28 L246.11,542.98 L243.16,543.69 L240.22,544.4 L237.27,545.11 L234.32,545.82 L231.37,546.53 L228.42,547.24 L225.47,547.95 L222.53,548.66 L219.58,549.37 L216.63,550.07 L213.68,550.78 L210.73,551.49 L207.78,552.2 L204.84,552.91 L201.89,553.62 L198.94,554.33 L195.99,555.04 L193.04,555.75 L190.09,556.46 L187.15,557.16 L184.2,557.9 L181.25,558.72 L178.3,559.54 L175.35,560.36 L172.4,561.18 L169.46,562 L166.51,562.82 L163.56,563.63 L160.61,564.45 L157.66,565.27 L154.71,566.09 L151.77,566.91 L148.82,567.73 L145.87,568.55 L142.92,569.37 L139.97,570.18 L137.02,571 L134.08,571.82 L131.13,572.64 L128.18,573.46 L125.23,574.28 L122.28,575.1 L119.33,575.92 L116.39,576.73 L113.44,577.55 L110.49,578.37 L107.54,579.19 L104.59,580.01 L101.64,580.83 L98.7,581.65 L95.75,582.47 L92.8,583.28Z" fill="#c3c3c3" fill-opacity="0.686"/>
<path d="M92.8,578.3 L269.7,532.6" fill="none" stroke="#000" stroke-width="1.5" stroke-dasharray="2 2.3"/>
<path d="M92.8,570.5 C96.78,569.53 108.27,566.55 116.7,564.7 C125.13,562.85 134.5,561.02 143.4,559.4 C152.3,557.78 162.33,556.1 170.1,555 C177.87,553.9 183.07,553.37 190,552.8 C196.93,552.23 203.63,552.07 211.7,551.6 C219.77,551.13 228.8,550.43 238.4,550 C248,549.57 264.15,549.17 269.3,549" fill="none" stroke="#000" stroke-width="3.6" stroke-linecap="round" stroke-linejoin="round"/>
<line x1="84" y1="573" x2="84" y2="586" stroke="#000" stroke-width="1.3"/>
<rect x="79.35" y="574.85" width="8.3" height="8.3" fill="#000"/>
<line x1="88.5" y1="572" x2="88.5" y2="587" stroke="#000" stroke-width="1.3"/>
<path d="M88.4,573.9 L93.5,579 L88.4,584.1 L83.3,579 Z" fill="#000"/>
<line x1="278.5" y1="510" x2="278.5" y2="525.4" stroke="#000" stroke-width="1.3"/>
<path d="M278.5,511.8 L283.8,520.8 L273.2,520.8 Z" fill="#000"/>
<line x1="273.1" y1="541" x2="273.1" y2="550" stroke="#000" stroke-width="1.3"/>
<path d="M267.8,545.2 L278.4,545.2 L273.1,554.2 Z" fill="#000"/>
</g>
<g>
<path d="M307,564.6 L308.25,564.49 L309.8,564.35 L311.61,564.19 L313.65,564.01 L315.86,563.82 L318.22,563.61 L320.68,563.39 L323.2,563.16 L325.74,562.93 L328.26,562.69 L330.73,562.45 L333.1,562.21 L335.42,561.96 L337.75,561.71 L340.1,561.45 L342.47,561.18 L344.86,560.91 L347.28,560.63 L349.72,560.35 L352.2,560.06 L354.7,559.76 L357.23,559.47 L359.8,559.17 L362.4,558.87 L365.03,558.58 L367.66,558.31 L370.32,558.05 L373,557.78 L375.72,557.52 L378.46,557.25 L381.25,556.95 L384.09,556.64 L386.97,556.3 L389.92,555.92 L392.92,555.49 L396,555.02 L399.14,554.5 L402.35,553.83 L405.61,553.08 L408.93,552.29 L412.29,551.47 L415.71,550.62 L419.18,549.75 L422.69,548.86 L426.23,547.95 L429.82,547.03 L433.44,546.11 L437.1,545.18 L440.96,544.21 L445.14,543.14 L449.54,542 L454.07,540.83 L458.64,539.64 L463.17,538.46 L467.55,537.32 L471.7,536.24 L475.52,535.24 L478.92,534.35 L481.81,533.59 L484.1,533 L484.1,544.1 L481.81,544.57 L478.92,545.16 L475.52,545.86 L471.7,546.65 L467.55,547.5 L463.17,548.4 L458.64,549.32 L454.07,550.26 L449.54,551.18 L445.14,552.06 L440.96,552.9 L437.1,553.66 L433.44,554.38 L429.82,555.1 L426.23,555.82 L422.69,556.53 L419.18,557.22 L415.71,557.9 L412.29,558.56 L408.93,559.19 L405.61,559.79 L402.35,560.36 L399.14,560.94 L396,561.59 L392.92,562.18 L389.92,562.73 L386.97,563.23 L384.09,563.69 L381.25,564.12 L378.46,564.53 L375.72,564.91 L373,565.29 L370.32,565.66 L367.66,566.03 L365.03,566.41 L362.4,566.81 L359.8,567.21 L357.23,567.62 L354.7,568.01 L352.2,568.41 L349.72,568.8 L347.28,569.18 L344.86,569.56 L342.47,569.93 L340.1,570.3 L337.75,570.65 L335.42,571 L333.1,571.34 L330.73,571.68 L328.26,572.02 L325.74,572.36 L323.2,572.7 L320.68,573.03 L318.22,573.35 L315.86,573.66 L313.65,573.94 L311.61,574.2 L309.8,574.44 L308.25,574.64 L307,574.8Z" fill="#959595"/>
<path d="M306.6,573.9 L309.56,572.99 L312.52,572.09 L315.48,571.18 L318.43,570.28 L321.39,569.38 L324.35,568.47 L327.31,567.57 L330.27,566.67 L333.23,565.76 L336.18,564.86 L339.14,563.95 L342.1,563.05 L345.06,562.15 L348.02,561.24 L350.98,560.34 L353.93,559.44 L356.89,558.53 L359.85,557.63 L362.81,556.73 L365.77,555.82 L368.73,554.92 L371.68,554.01 L374.64,553.11 L377.6,552.21 L380.56,551.3 L383.52,550.4 L386.48,549.5 L389.43,548.59 L392.39,547.69 L395.35,546.78 L398.31,545.88 L401.27,544.94 L404.23,543.93 L407.18,542.93 L410.14,541.93 L413.1,540.93 L416.06,539.93 L419.02,538.93 L421.98,537.93 L424.93,536.93 L427.89,535.92 L430.85,534.92 L433.81,533.92 L436.77,532.92 L439.73,531.92 L442.68,530.92 L445.64,529.92 L448.6,528.91 L451.56,527.91 L454.52,526.91 L457.48,525.91 L460.43,524.91 L463.39,523.91 L466.35,522.91 L469.31,521.9 L472.27,520.9 L475.23,519.9 L478.18,518.9 L481.14,517.9 L484.1,516.9 L484.1,526.5 L481.14,527.39 L478.18,528.28 L475.23,529.17 L472.27,530.06 L469.31,530.95 L466.35,531.83 L463.39,532.72 L460.43,533.61 L457.48,534.5 L454.52,535.39 L451.56,536.28 L448.6,537.17 L445.64,538.05 L442.68,538.94 L439.73,539.83 L436.77,540.72 L433.81,541.61 L430.85,542.5 L427.89,543.39 L424.93,544.27 L421.98,545.16 L419.02,546.05 L416.06,546.94 L413.1,547.83 L410.14,548.72 L407.18,549.61 L404.23,550.5 L401.27,551.38 L398.31,552.33 L395.35,553.31 L392.39,554.3 L389.43,555.29 L386.48,556.27 L383.52,557.26 L380.56,558.25 L377.6,559.23 L374.64,560.22 L371.68,561.21 L368.73,562.19 L365.77,563.18 L362.81,564.16 L359.85,565.15 L356.89,566.14 L353.93,567.12 L350.98,568.11 L348.02,569.1 L345.06,570.08 L342.1,571.07 L339.14,572.06 L336.18,573.04 L333.23,574.03 L330.27,575.01 L327.31,576 L324.35,576.99 L321.39,577.97 L318.43,578.96 L315.48,579.95 L312.52,580.93 L309.56,581.92 L306.6,582.9Z" fill="#c3c3c3" fill-opacity="0.686"/>
<path d="M306.6,578.4 L484.1,521.7" fill="none" stroke="#000" stroke-width="1.5" stroke-dasharray="2 2.3"/>
<path d="M307,569.6 C311.35,569.12 323.87,567.83 333.1,566.7 C342.33,565.57 351.92,564.2 362.4,562.8 C372.88,561.4 383.55,560.53 396,558.3 C408.45,556.07 422.42,552.7 437.1,549.4 C451.78,546.1 476.27,540.32 484.1,538.5" fill="none" stroke="#000" stroke-width="3.6" stroke-linecap="round" stroke-linejoin="round"/>
<line x1="297.8" y1="577" x2="297.8" y2="589.4" stroke="#000" stroke-width="1.3"/>
<rect x="294.05" y="577.95" width="8.3" height="8.3" fill="#000"/>
<path d="M302.9,569.1 L308,574.2 L302.9,579.3 L297.8,574.2 Z" fill="#000"/>
<line x1="492.9" y1="513" x2="492.9" y2="521.3" stroke="#000" stroke-width="1.3"/>
<path d="M493.3,508.9 L498.6,517.9 L488,517.9 Z" fill="#000"/>
<line x1="487.7" y1="522" x2="487.7" y2="530" stroke="#000" stroke-width="1.3"/>
<path d="M482.4,525.9 L493,525.9 L487.7,534.9 Z" fill="#000"/>
</g>
<g>
<path d="M521.6,532 L523.59,532.68 L526.26,533.6 L529.45,534.69 L532.98,535.9 L536.67,537.17 L540.37,538.43 L543.91,539.63 L547.1,540.7 L550.02,541.13 L552.85,541.57 L555.61,541.99 L558.32,542.41 L561,542.8 L563.68,543.17 L566.37,543.5 L569.1,543.8 L571.85,544.06 L574.6,544.29 L577.35,544.49 L580.11,544.66 L582.86,544.81 L585.61,544.93 L588.35,545.02 L591.1,545.1 L593.83,545.16 L596.55,545.21 L599.25,545.24 L601.96,545.25 L604.68,545.22 L607.42,545.13 L610.19,545 L613,544.78 L615.81,544.49 L618.61,544.12 L621.41,543.69 L624.24,543.2 L627.13,542.67 L630.1,542.11 L633.18,541.52 L636.4,540.92 L639.76,540.3 L643.24,539.65 L646.82,538.97 L650.49,538.26 L654.23,537.52 L658.03,536.74 L661.85,535.91 L665.7,535.04 L669.81,534.05 L674.32,532.91 L679.01,531.69 L683.68,530.45 L688.12,529.26 L692.13,528.18 L695.49,527.27 L698,526.6 L698,542 L695.49,542.48 L692.13,543.14 L688.12,543.93 L683.68,544.8 L679.01,545.69 L674.32,546.57 L669.81,547.37 L665.7,548.06 L661.85,548.65 L658.03,549.19 L654.23,549.7 L650.49,550.17 L646.82,550.61 L643.24,551.02 L639.76,551.41 L636.4,551.78 L633.18,552.15 L630.1,552.51 L627.13,552.86 L624.24,553.17 L621.41,553.45 L618.61,553.67 L615.81,553.83 L613,553.92 L610.19,553.93 L607.42,553.86 L604.68,553.93 L601.96,553.98 L599.25,553.99 L596.55,553.97 L593.83,553.94 L591.1,553.9 L588.35,553.78 L585.61,553.64 L582.86,553.48 L580.11,553.29 L577.35,553.07 L574.6,552.83 L571.85,552.55 L569.1,552.25 L566.37,551.91 L563.68,551.53 L561,551.12 L558.32,550.69 L555.61,550.23 L552.85,549.76 L550.02,549.28 L547.1,548.8 L543.91,548.95 L540.37,549.13 L536.67,549.32 L532.98,549.5 L529.45,549.68 L526.26,549.84 L523.59,549.97 L521.6,550.07Z" fill="#959595"/>
<path d="M522,544.2 L524.93,543.67 L527.87,543.14 L530.8,542.61 L533.73,542.08 L536.67,541.55 L539.6,541.02 L542.53,540.49 L545.47,539.96 L548.4,539.43 L551.33,538.9 L554.27,538.37 L557.2,537.84 L560.13,537.31 L563.07,536.78 L566,536.25 L568.93,535.72 L571.87,535.19 L574.8,534.66 L577.73,534.13 L580.67,533.6 L583.6,533.07 L586.53,532.54 L589.47,532.01 L592.4,531.48 L595.33,530.95 L598.27,530.42 L601.2,529.89 L604.13,529.36 L607.07,528.83 L610,528.3 L612.93,527.77 L615.87,527.24 L618.8,526.71 L621.73,526.18 L624.67,525.65 L627.6,525.12 L630.53,524.59 L633.47,524.06 L636.4,523.53 L639.33,523 L642.27,522.47 L645.2,521.94 L648.13,521.41 L651.07,520.88 L654,520.35 L656.93,519.82 L659.87,519.29 L662.8,518.76 L665.73,518.23 L668.67,517.7 L671.6,517.17 L674.53,516.64 L677.47,516.11 L680.4,515.58 L683.33,515.05 L686.27,514.52 L689.2,513.99 L692.13,513.46 L695.07,512.93 L698,512.4 L698,521.4 L695.07,521.92 L692.13,522.44 L689.2,522.96 L686.27,523.47 L683.33,523.99 L680.4,524.51 L677.47,525.03 L674.53,525.55 L671.6,526.07 L668.67,526.58 L665.73,527.1 L662.8,527.62 L659.87,528.14 L656.93,528.66 L654,529.18 L651.07,529.69 L648.13,530.21 L645.2,530.73 L642.27,531.25 L639.33,531.77 L636.4,532.29 L633.47,532.8 L630.53,533.32 L627.6,533.84 L624.67,534.36 L621.73,534.88 L618.8,535.4 L615.87,535.91 L612.93,536.43 L610,536.95 L607.07,537.47 L604.13,537.99 L601.2,538.51 L598.27,539.02 L595.33,539.54 L592.4,540.06 L589.47,540.58 L586.53,541.1 L583.6,541.62 L580.67,542.13 L577.73,542.65 L574.8,543.17 L571.87,543.69 L568.93,544.21 L566,544.73 L563.07,545.24 L560.13,545.76 L557.2,546.28 L554.27,546.8 L551.33,547.32 L548.4,547.84 L545.47,548.35 L542.53,548.87 L539.6,549.39 L536.67,549.91 L533.73,550.43 L530.8,550.95 L527.87,551.46 L524.93,551.98 L522,552.5Z" fill="#c3c3c3" fill-opacity="0.686"/>
<path d="M522,548 L698,516.7" fill="none" stroke="#000" stroke-width="1.5" stroke-dasharray="2 2.3"/>
<path d="M521.6,540 C525.85,540.73 539.18,543.07 547.1,544.4 C555.02,545.73 561.77,547.1 569.1,548 C576.43,548.9 583.78,549.47 591.1,549.8 C598.42,550.13 605.45,550.53 613,550 C620.55,549.47 627.62,548.05 636.4,546.6 C645.18,545.15 655.43,543.48 665.7,541.3 C675.97,539.12 692.62,534.8 698,533.5" fill="none" stroke="#000" stroke-width="3.6" stroke-linecap="round" stroke-linejoin="round"/>
<line x1="513.3" y1="542.2" x2="513.3" y2="555.4" stroke="#000" stroke-width="1.3"/>
<rect x="508.45" y="544.65" width="8.3" height="8.3" fill="#000"/>
<line x1="517.7" y1="542.2" x2="517.7" y2="555.4" stroke="#000" stroke-width="1.3"/>
<path d="M517.5,543.1 L522.6,548.2 L517.5,553.3 L512.4,548.2 Z" fill="#000"/>
<line x1="707.3" y1="503" x2="707.3" y2="511.2" stroke="#000" stroke-width="1.3"/>
<path d="M708,498.1 L713.3,507.1 L702.7,507.1 Z" fill="#000"/>
<line x1="703.2" y1="522.2" x2="703.2" y2="531" stroke="#000" stroke-width="1.3"/>
<path d="M697.9,526.9 L708.5,526.9 L703.2,535.9 Z" fill="#000"/>
</g>
<g>
<path d="M92.8,712.9 L94.35,712.9 L96.08,712.9 L97.98,712.9 L100.04,712.9 L102.26,712.91 L104.62,712.91 L107.11,712.91 L109.74,712.92 L112.47,712.92 L115.31,712.92 L118.25,712.93 L121.28,712.93 L124.39,712.93 L127.56,712.93 L130.79,712.94 L134.08,712.94 L137.4,712.94 L140.75,712.94 L144.13,712.94 L147.52,712.94 L150.91,712.94 L154.29,712.94 L157.66,712.94 L161,712.94 L164.31,712.93 L167.58,712.93 L170.79,712.92 L173.93,712.92 L177.01,712.91 L180,712.9 L183,712.89 L186.09,712.88 L189.27,712.86 L192.53,712.85 L195.84,712.83 L199.22,712.81 L202.63,712.79 L206.08,712.77 L209.55,712.75 L213.04,712.72 L216.53,712.7 L220.01,712.67 L223.47,712.65 L226.9,712.62 L230.3,712.6 L233.65,712.58 L236.94,712.55 L240.16,712.53 L243.3,712.5 L246.35,712.48 L249.3,712.45 L252.15,712.43 L254.87,712.41 L257.46,712.39 L259.91,712.37 L262.21,712.35 L264.35,712.34 L266.32,712.32 L268.11,712.31 L269.7,712.3 L269.7,715.3 L268.11,715.31 L266.32,715.32 L264.35,715.34 L262.21,715.35 L259.91,715.37 L257.46,715.39 L254.87,715.41 L252.15,715.43 L249.3,715.45 L246.35,715.48 L243.3,715.5 L240.16,715.53 L236.94,715.55 L233.65,715.58 L230.3,715.6 L226.9,715.62 L223.47,715.65 L220.01,715.67 L216.53,715.7 L213.04,715.72 L209.55,715.75 L206.08,715.77 L202.63,715.79 L199.22,715.81 L195.84,715.83 L192.53,715.85 L189.27,715.86 L186.09,715.88 L183,715.89 L180,715.9 L177.01,715.91 L173.93,715.92 L170.79,715.92 L167.58,715.93 L164.31,715.93 L161,715.94 L157.66,715.94 L154.29,715.94 L150.91,715.94 L147.52,715.94 L144.13,715.94 L140.75,715.94 L137.4,715.94 L134.08,715.94 L130.79,715.94 L127.56,715.93 L124.39,715.93 L121.28,715.93 L118.25,715.93 L115.31,715.92 L112.47,715.92 L109.74,715.92 L107.11,715.91 L104.62,715.91 L102.26,715.91 L100.04,715.9 L97.98,715.9 L96.08,715.9 L94.35,715.9 L92.8,715.9Z" fill="#959595"/>
<path d="M92.8,708.4 L94.35,708.42 L96.08,708.45 L97.98,708.48 L100.04,708.52 L102.26,708.55 L104.62,708.59 L107.11,708.63 L109.74,708.67 L112.47,708.72 L115.31,708.76 L118.25,708.81 L121.28,708.86 L124.39,708.91 L127.56,708.96 L130.79,709.01 L134.08,709.07 L137.4,709.12 L140.75,709.17 L144.13,709.23 L147.52,709.28 L150.91,709.34 L154.29,709.39 L157.66,709.44 L161,709.5 L164.31,709.55 L167.58,709.6 L170.79,709.65 L173.93,709.7 L177.01,709.75 L180,709.8 L183,709.85 L186.09,709.9 L189.27,709.95 L192.53,710 L195.84,710.05 L199.22,710.1 L202.63,710.16 L206.08,710.21 L209.55,710.26 L213.04,710.32 L216.53,710.37 L220.01,710.43 L223.47,710.48 L226.9,710.53 L230.3,710.59 L233.65,710.64 L236.94,710.69 L240.16,710.74 L243.3,710.79 L246.35,710.84 L249.3,710.88 L252.15,710.93 L254.87,710.97 L257.46,711.01 L259.91,711.05 L262.21,711.08 L264.35,711.12 L266.32,711.15 L268.11,711.18 L269.7,711.2 L269.7,714.8 L268.11,714.78 L266.32,714.75 L264.35,714.72 L262.21,714.68 L259.91,714.65 L257.46,714.61 L254.87,714.57 L252.15,714.53 L249.3,714.48 L246.35,714.44 L243.3,714.39 L240.16,714.34 L236.94,714.29 L233.65,714.24 L230.3,714.19 L226.9,714.13 L223.47,714.08 L220.01,714.03 L216.53,713.97 L213.04,713.92 L209.55,713.86 L206.08,713.81 L202.63,713.76 L199.22,713.7 L195.84,713.65 L192.53,713.6 L189.27,713.55 L186.09,713.5 L183,713.45 L180,713.4 L177.01,713.35 L173.93,713.3 L170.79,713.25 L167.58,713.2 L164.31,713.15 L161,713.1 L157.66,713.04 L154.29,712.99 L150.91,712.94 L147.52,712.88 L144.13,712.83 L140.75,712.77 L137.4,712.72 L134.08,712.67 L130.79,712.61 L127.56,712.56 L124.39,712.51 L121.28,712.46 L118.25,712.41 L115.31,712.36 L112.47,712.32 L109.74,712.27 L107.11,712.23 L104.62,712.19 L102.26,712.15 L100.04,712.12 L97.98,712.08 L96.08,712.05 L94.35,712.02 L92.8,712Z" fill="#c3c3c3" fill-opacity="0.686"/>
<path d="M92.8,710.2 C107.33,710.43 150.52,711.13 180,711.6 C209.48,712.07 254.75,712.77 269.7,713" fill="none" stroke="#000" stroke-width="1.5" stroke-dasharray="2 2.3"/>
<path d="M92.8,714.4 C107.33,714.4 150.52,714.5 180,714.4 C209.48,714.3 254.75,713.9 269.7,713.8" fill="none" stroke="#000" stroke-width="3.6" stroke-linecap="round" stroke-linejoin="round"/>
<rect x="79.35" y="709.65" width="8.3" height="8.3" fill="#000"/>
<path d="M88.4,701.1 L93.5,706.2 L88.4,711.3 L83.3,706.2 Z" fill="#000"/>
<path d="M278.5,702.7 L283.8,711.7 L273.2,711.7 Z" fill="#000"/>
<path d="M268.2,719.4 L278.8,719.4 L273.5,728.4 Z" fill="#000"/>
</g>
<g>
<path d="M307.4,709.4 L308.95,709.44 L310.69,709.49 L312.61,709.55 L314.68,709.62 L316.91,709.69 L319.29,709.77 L321.8,709.86 L324.44,709.95 L327.2,710.04 L330.06,710.14 L333.02,710.24 L336.07,710.34 L339.19,710.44 L342.38,710.54 L345.64,710.64 L348.94,710.75 L352.28,710.85 L355.65,710.94 L359.05,711.04 L362.45,711.13 L365.86,711.22 L369.26,711.3 L372.64,711.38 L375.99,711.45 L379.31,711.51 L382.58,711.57 L385.79,711.61 L388.94,711.65 L392.01,711.68 L395,711.7 L397.99,711.71 L401.08,711.71 L404.24,711.7 L407.48,711.68 L410.78,711.65 L414.13,711.62 L417.53,711.58 L420.95,711.53 L424.4,711.48 L427.86,711.43 L431.32,711.37 L434.77,711.3 L438.2,711.23 L441.61,711.17 L444.98,711.09 L448.29,711.02 L451.55,710.95 L454.74,710.87 L457.85,710.8 L460.87,710.73 L463.8,710.66 L466.61,710.59 L469.31,710.53 L471.87,710.46 L474.3,710.41 L476.58,710.35 L478.7,710.31 L480.65,710.26 L482.42,710.23 L484,710.2 L484,713.2 L482.42,713.23 L480.65,713.26 L478.7,713.31 L476.58,713.35 L474.3,713.41 L471.87,713.46 L469.31,713.53 L466.61,713.59 L463.8,713.66 L460.87,713.73 L457.85,713.8 L454.74,713.87 L451.55,713.95 L448.29,714.02 L444.98,714.09 L441.61,714.17 L438.2,714.23 L434.77,714.3 L431.32,714.37 L427.86,714.43 L424.4,714.48 L420.95,714.53 L417.53,714.58 L414.13,714.62 L410.78,714.65 L407.48,714.68 L404.24,714.7 L401.08,714.71 L397.99,714.71 L395,714.7 L392.01,714.68 L388.94,714.65 L385.79,714.61 L382.58,714.57 L379.31,714.51 L375.99,714.45 L372.64,714.38 L369.26,714.3 L365.86,714.22 L362.45,714.13 L359.05,714.04 L355.65,713.94 L352.28,713.85 L348.94,713.75 L345.64,713.64 L342.38,713.54 L339.19,713.44 L336.07,713.34 L333.02,713.24 L330.06,713.14 L327.2,713.04 L324.44,712.95 L321.8,712.86 L319.29,712.77 L316.91,712.69 L314.68,712.62 L312.61,712.55 L310.69,712.49 L308.95,712.44 L307.4,712.4Z" fill="#959595"/>
<path d="M307.4,705.3 L310.34,705.38 L313.29,705.46 L316.23,705.55 L319.17,705.63 L322.12,705.71 L325.06,705.79 L328,705.87 L330.95,705.95 L333.89,706.04 L336.83,706.12 L339.78,706.2 L342.72,706.28 L345.66,706.36 L348.61,706.44 L351.55,706.53 L354.49,706.61 L357.44,706.69 L360.38,706.77 L363.32,706.85 L366.27,706.93 L369.21,707.02 L372.15,707.1 L375.1,707.18 L378.04,707.26 L380.98,707.34 L383.93,707.42 L386.87,707.51 L389.81,707.59 L392.76,707.67 L395.7,707.75 L398.64,707.83 L401.59,707.91 L404.53,708 L407.47,708.08 L410.42,708.16 L413.36,708.24 L416.3,708.32 L419.25,708.4 L422.19,708.49 L425.13,708.57 L428.08,708.65 L431.02,708.73 L433.96,708.81 L436.91,708.89 L439.85,708.98 L442.79,709.06 L445.74,709.14 L448.68,709.22 L451.62,709.3 L454.57,709.38 L457.51,709.47 L460.45,709.55 L463.4,709.63 L466.34,709.71 L469.28,709.79 L472.23,709.87 L475.17,709.96 L478.11,710.04 L481.06,710.12 L484,710.2 L484,713.8 L481.06,713.72 L478.11,713.64 L475.17,713.55 L472.23,713.47 L469.28,713.39 L466.34,713.31 L463.4,713.23 L460.45,713.15 L457.51,713.06 L454.57,712.98 L451.62,712.9 L448.68,712.82 L445.74,712.74 L442.79,712.66 L439.85,712.57 L436.91,712.49 L433.96,712.41 L431.02,712.33 L428.08,712.25 L425.13,712.17 L422.19,712.08 L419.25,712 L416.3,711.92 L413.36,711.84 L410.42,711.76 L407.47,711.68 L404.53,711.59 L401.59,711.51 L398.64,711.43 L395.7,711.35 L392.76,711.27 L389.81,711.19 L386.87,711.11 L383.93,711.02 L380.98,710.94 L378.04,710.86 L375.1,710.78 L372.15,710.7 L369.21,710.62 L366.27,710.53 L363.32,710.45 L360.38,710.37 L357.44,710.29 L354.49,710.21 L351.55,710.12 L348.61,710.04 L345.66,709.96 L342.72,709.88 L339.78,709.8 L336.83,709.72 L333.89,709.63 L330.95,709.55 L328,709.47 L325.06,709.39 L322.12,709.31 L319.17,709.23 L316.23,709.14 L313.29,709.06 L310.34,708.98 L307.4,708.9Z" fill="#c3c3c3" fill-opacity="0.686"/>
<path d="M307.4,707.1 L484,712" fill="none" stroke="#000" stroke-width="1.5" stroke-dasharray="2 2.3"/>
<path d="M307.4,710.9 C322,711.28 365.57,713.07 395,713.2 C424.43,713.33 469.17,711.95 484,711.7" fill="none" stroke="#000" stroke-width="3.6" stroke-linecap="round" stroke-linejoin="round"/>
<rect x="294.05" y="710.15" width="8.3" height="8.3" fill="#000"/>
<path d="M302.9,695.5 L308,700.6 L302.9,705.7 L297.8,700.6 Z" fill="#000"/>
<path d="M493,703.2 L498.3,712.2 L487.7,712.2 Z" fill="#000"/>
<path d="M482.7,714.1 L493.3,714.1 L488,723.1 Z" fill="#000"/>
</g>
<g>
<path d="M521.8,707.9 L523.37,707.86 L525.12,707.8 L527.05,707.74 L529.15,707.67 L531.4,707.59 L533.8,707.5 L536.34,707.41 L539,707.32 L541.78,707.22 L544.67,707.11 L547.66,707 L550.74,706.9 L553.89,706.79 L557.12,706.68 L560.4,706.57 L563.73,706.46 L567.1,706.36 L570.5,706.26 L573.92,706.16 L577.35,706.07 L580.78,705.98 L584.19,705.9 L587.59,705.83 L590.96,705.76 L594.29,705.71 L597.57,705.66 L600.79,705.63 L603.94,705.61 L607.02,705.6 L610,705.6 L612.98,705.62 L616.05,705.65 L619.2,705.69 L622.42,705.75 L625.7,705.82 L629.02,705.89 L632.38,705.98 L635.78,706.08 L639.19,706.18 L642.61,706.29 L646.03,706.4 L649.44,706.52 L652.83,706.65 L656.19,706.78 L659.51,706.91 L662.79,707.04 L666,707.17 L669.15,707.3 L672.21,707.43 L675.19,707.56 L678.07,707.68 L680.85,707.8 L683.51,707.91 L686.04,708.02 L688.43,708.12 L690.67,708.22 L692.76,708.3 L694.69,708.38 L696.44,708.45 L698,708.5 L698,711.5 L696.44,711.45 L694.69,711.38 L692.76,711.3 L690.67,711.22 L688.43,711.12 L686.04,711.02 L683.51,710.91 L680.85,710.8 L678.07,710.68 L675.19,710.56 L672.21,710.43 L669.15,710.3 L666,710.17 L662.79,710.04 L659.51,709.91 L656.19,709.78 L652.83,709.65 L649.44,709.52 L646.03,709.4 L642.61,709.29 L639.19,709.18 L635.78,709.08 L632.38,708.98 L629.02,708.89 L625.7,708.82 L622.42,708.75 L619.2,708.69 L616.05,708.65 L612.98,708.62 L610,708.6 L607.02,708.6 L603.94,708.61 L600.79,708.63 L597.57,708.66 L594.29,708.71 L590.96,708.76 L587.59,708.83 L584.19,708.9 L580.78,708.98 L577.35,709.07 L573.92,709.16 L570.5,709.26 L567.1,709.36 L563.73,709.46 L560.4,709.57 L557.12,709.68 L553.89,709.79 L550.74,709.9 L547.66,710 L544.67,710.11 L541.78,710.22 L539,710.32 L536.34,710.41 L533.8,710.5 L531.4,710.59 L529.15,710.67 L527.05,710.74 L525.12,710.8 L523.37,710.86 L521.8,710.9Z" fill="#959595"/>
<path d="M521.8,704.8 L524.74,704.9 L527.67,704.99 L530.61,705.09 L533.55,705.18 L536.48,705.28 L539.42,705.37 L542.36,705.47 L545.29,705.56 L548.23,705.66 L551.17,705.75 L554.1,705.85 L557.04,705.94 L559.98,706.04 L562.91,706.13 L565.85,706.23 L568.79,706.32 L571.72,706.42 L574.66,706.51 L577.6,706.61 L580.53,706.7 L583.47,706.8 L586.41,706.89 L589.34,706.99 L592.28,707.08 L595.22,707.18 L598.15,707.27 L601.09,707.37 L604.03,707.46 L606.96,707.56 L609.9,707.65 L612.84,707.75 L615.77,707.84 L618.71,707.94 L621.65,708.03 L624.58,708.12 L627.52,708.22 L630.46,708.32 L633.39,708.41 L636.33,708.5 L639.27,708.6 L642.2,708.7 L645.14,708.79 L648.08,708.88 L651.01,708.98 L653.95,709.08 L656.89,709.17 L659.82,709.26 L662.76,709.36 L665.7,709.46 L668.63,709.55 L671.57,709.64 L674.51,709.74 L677.44,709.84 L680.38,709.93 L683.32,710.02 L686.25,710.12 L689.19,710.22 L692.13,710.31 L695.06,710.4 L698,710.5 L698,714.1 L695.06,714 L692.13,713.91 L689.19,713.81 L686.25,713.72 L683.32,713.62 L680.38,713.53 L677.44,713.43 L674.51,713.34 L671.57,713.24 L668.63,713.15 L665.7,713.05 L662.76,712.96 L659.82,712.86 L656.89,712.77 L653.95,712.67 L651.01,712.58 L648.08,712.48 L645.14,712.39 L642.2,712.29 L639.27,712.2 L636.33,712.1 L633.39,712.01 L630.46,711.91 L627.52,711.82 L624.58,711.72 L621.65,711.63 L618.71,711.53 L615.77,711.44 L612.84,711.34 L609.9,711.25 L606.96,711.15 L604.03,711.06 L601.09,710.96 L598.15,710.87 L595.22,710.77 L592.28,710.68 L589.34,710.58 L586.41,710.49 L583.47,710.39 L580.53,710.3 L577.6,710.2 L574.66,710.11 L571.72,710.01 L568.79,709.92 L565.85,709.82 L562.91,709.73 L559.98,709.63 L557.04,709.54 L554.1,709.44 L551.17,709.35 L548.23,709.25 L545.29,709.16 L542.36,709.06 L539.42,708.97 L536.48,708.88 L533.55,708.78 L530.61,708.68 L527.67,708.59 L524.74,708.5 L521.8,708.4Z" fill="#c3c3c3" fill-opacity="0.686"/>
<path d="M521.8,706.6 L698,712.3" fill="none" stroke="#000" stroke-width="1.5" stroke-dasharray="2 2.3"/>
<path d="M521.8,709.4 C536.5,709.02 580.63,707 610,707.1 C639.37,707.2 683.33,709.52 698,710" fill="none" stroke="#000" stroke-width="3.6" stroke-linecap="round" stroke-linejoin="round"/>
<rect x="508.45" y="706.75" width="8.3" height="8.3" fill="#000"/>
<path d="M517.5,696.3 L522.6,701.4 L517.5,706.5 L512.4,701.4 Z" fill="#000"/>
<path d="M708,699.2 L713.3,708.2 L702.7,708.2 Z" fill="#000"/>
<path d="M697.7,716.9 L708.3,716.9 L703,725.9 Z" fill="#000"/>
</g>
<g>
<path d="M92.8,933.5 L94.43,933.44 L96.55,933.36 L99.06,933.27 L101.88,933.16 L104.9,933.05 L108.04,932.93 L111.22,932.82 L114.33,932.7 L117.29,932.6 L120,932.5 L122.52,932.41 L124.97,932.32 L127.37,932.24 L129.73,932.16 L132.07,932.08 L134.41,932 L136.75,931.92 L139.12,931.84 L141.53,931.77 L144,931.7 L146.5,931.63 L149.01,931.57 L151.53,931.51 L154.06,931.45 L156.62,931.39 L159.22,931.34 L161.84,931.28 L164.51,931.22 L167.23,931.16 L170,931.1 L172.82,931.03 L175.66,930.97 L178.55,930.9 L181.47,930.84 L184.44,930.77 L187.45,930.7 L190.51,930.63 L193.62,930.55 L196.78,930.48 L200,930.4 L203.3,930.32 L206.69,930.22 L210.15,930.13 L213.66,930.03 L217.22,929.93 L220.8,929.83 L224.38,929.74 L227.95,929.65 L231.5,929.57 L235,929.5 L238.63,929.44 L242.48,929.38 L246.47,929.33 L250.49,929.28 L254.44,929.24 L258.21,929.21 L261.7,929.17 L264.82,929.15 L267.45,929.12 L269.5,929.1 L269.5,932.1 L267.45,932.12 L264.82,932.15 L261.7,932.17 L258.21,932.21 L254.44,932.24 L250.49,932.28 L246.47,932.33 L242.48,932.38 L238.63,932.44 L235,932.5 L231.5,932.57 L227.95,932.65 L224.38,932.74 L220.8,932.83 L217.22,932.93 L213.66,933.03 L210.15,933.13 L206.69,933.22 L203.3,933.32 L200,933.4 L196.78,933.48 L193.62,933.55 L190.51,933.63 L187.45,933.7 L184.44,933.77 L181.47,933.84 L178.55,933.9 L175.66,933.97 L172.82,934.03 L170,934.1 L167.23,934.16 L164.51,934.22 L161.84,934.28 L159.22,934.34 L156.62,934.39 L154.06,934.45 L151.53,934.51 L149.01,934.57 L146.5,934.63 L144,934.7 L141.53,934.77 L139.12,934.84 L136.75,934.92 L134.41,935 L132.07,935.08 L129.73,935.16 L127.37,935.24 L124.97,935.32 L122.52,935.41 L120,935.5 L117.29,935.6 L114.33,935.7 L111.22,935.82 L108.04,935.93 L104.9,936.05 L101.88,936.16 L99.06,936.27 L96.55,936.36 L94.43,936.44 L92.8,936.5Z" fill="#959595"/>
<path d="M92.8,929.9 L94.2,929.9 L95.82,929.9 L97.66,929.9 L99.69,929.9 L101.89,929.9 L104.25,929.91 L106.74,929.91 L109.36,929.91 L112.09,929.91 L114.9,929.91 L117.78,929.91 L120.72,929.91 L123.69,929.91 L126.67,929.91 L129.66,929.91 L132.63,929.91 L135.57,929.91 L138.46,929.91 L141.27,929.9 L144,929.9 L146.68,929.9 L149.34,929.89 L152.01,929.89 L154.68,929.88 L157.35,929.88 L160.02,929.88 L162.71,929.87 L165.41,929.87 L168.12,929.86 L170.86,929.86 L173.61,929.85 L176.4,929.84 L179.21,929.83 L182.06,929.82 L184.94,929.8 L187.86,929.79 L190.82,929.77 L193.83,929.75 L196.89,929.73 L200,929.7 L203.25,929.67 L206.72,929.63 L210.36,929.59 L214.15,929.55 L218.05,929.5 L222.05,929.45 L226.09,929.4 L230.16,929.35 L234.23,929.29 L238.25,929.24 L242.2,929.18 L246.06,929.13 L249.78,929.08 L253.33,929.03 L256.7,928.98 L259.83,928.93 L262.71,928.89 L265.3,928.86 L267.58,928.83 L269.5,928.8 L269.5,932.4 L267.58,932.43 L265.3,932.46 L262.71,932.49 L259.83,932.53 L256.7,932.58 L253.33,932.63 L249.78,932.68 L246.06,932.73 L242.2,932.78 L238.25,932.84 L234.23,932.89 L230.16,932.95 L226.09,933 L222.05,933.05 L218.05,933.1 L214.15,933.15 L210.36,933.19 L206.72,933.23 L203.25,933.27 L200,933.3 L196.89,933.33 L193.83,933.35 L190.82,933.37 L187.86,933.39 L184.94,933.4 L182.06,933.42 L179.21,933.43 L176.4,933.44 L173.61,933.45 L170.86,933.46 L168.12,933.46 L165.41,933.47 L162.71,933.47 L160.02,933.48 L157.35,933.48 L154.68,933.48 L152.01,933.49 L149.34,933.49 L146.68,933.5 L144,933.5 L141.27,933.5 L138.46,933.51 L135.57,933.51 L132.63,933.51 L129.66,933.51 L126.67,933.51 L123.69,933.51 L120.72,933.51 L117.78,933.51 L114.9,933.51 L112.09,933.51 L109.36,933.51 L106.74,933.51 L104.25,933.51 L101.89,933.5 L99.69,933.5 L97.66,933.5 L95.82,933.5 L94.2,933.5 L92.8,933.5Z" fill="#c3c3c3" fill-opacity="0.686"/>
<path d="M92.8,931.7 C101.33,931.7 126.13,931.73 144,931.7 C161.87,931.67 179.08,931.68 200,931.5 C220.92,931.32 257.92,930.75 269.5,930.6" fill="none" stroke="#000" stroke-width="1.5" stroke-dasharray="2 2.3"/>
<path d="M92.8,935 C97.33,934.83 111.47,934.3 120,934 C128.53,933.7 135.67,933.43 144,933.2 C152.33,932.97 160.67,932.82 170,932.6 C179.33,932.38 189.17,932.17 200,931.9 C210.83,931.63 223.42,931.22 235,931 C246.58,930.78 263.75,930.67 269.5,930.6" fill="none" stroke="#000" stroke-width="3.6" stroke-linecap="round" stroke-linejoin="round"/>
<rect x="79.35" y="932.25" width="8.3" height="8.3" fill="#000"/>
<path d="M88.4,922.1 L93.5,927.2 L88.4,932.3 L83.3,927.2 Z" fill="#000"/>
<path d="M278.5,916.8 L283.8,925.8 L273.2,925.8 Z" fill="#000"/>
<path d="M268.2,936.1 L278.8,936.1 L273.5,945.1 Z" fill="#000"/>
</g>
<g>
<path d="M307.4,931.4 L308.95,931.38 L310.69,931.35 L312.61,931.33 L314.68,931.3 L316.91,931.27 L319.29,931.24 L321.8,931.21 L324.44,931.18 L327.2,931.15 L330.06,931.11 L333.02,931.08 L336.07,931.04 L339.19,931 L342.38,930.96 L345.64,930.92 L348.94,930.87 L352.28,930.83 L355.65,930.78 L359.05,930.73 L362.45,930.67 L365.86,930.62 L369.26,930.56 L372.64,930.5 L375.99,930.44 L379.31,930.37 L382.58,930.3 L385.79,930.23 L388.94,930.16 L392.01,930.08 L395,930 L397.99,929.91 L401.08,929.82 L404.24,929.72 L407.48,929.61 L410.78,929.5 L414.13,929.38 L417.53,929.25 L420.95,929.13 L424.4,928.99 L427.86,928.86 L431.32,928.72 L434.77,928.58 L438.2,928.44 L441.61,928.3 L444.98,928.16 L448.29,928.02 L451.55,927.88 L454.74,927.75 L457.85,927.62 L460.87,927.49 L463.8,927.36 L466.61,927.24 L469.31,927.12 L471.87,927.01 L474.3,926.91 L476.58,926.81 L478.7,926.72 L480.65,926.64 L482.42,926.56 L484,926.5 L484,929.5 L482.42,929.56 L480.65,929.64 L478.7,929.72 L476.58,929.81 L474.3,929.91 L471.87,930.01 L469.31,930.12 L466.61,930.24 L463.8,930.36 L460.87,930.49 L457.85,930.62 L454.74,930.75 L451.55,930.88 L448.29,931.02 L444.98,931.16 L441.61,931.3 L438.2,931.44 L434.77,931.58 L431.32,931.72 L427.86,931.86 L424.4,931.99 L420.95,932.13 L417.53,932.25 L414.13,932.38 L410.78,932.5 L407.48,932.61 L404.24,932.72 L401.08,932.82 L397.99,932.91 L395,933 L392.01,933.08 L388.94,933.16 L385.79,933.23 L382.58,933.3 L379.31,933.37 L375.99,933.44 L372.64,933.5 L369.26,933.56 L365.86,933.62 L362.45,933.67 L359.05,933.73 L355.65,933.78 L352.28,933.83 L348.94,933.87 L345.64,933.92 L342.38,933.96 L339.19,934 L336.07,934.04 L333.02,934.08 L330.06,934.11 L327.2,934.15 L324.44,934.18 L321.8,934.21 L319.29,934.24 L316.91,934.27 L314.68,934.3 L312.61,934.33 L310.69,934.35 L308.95,934.38 L307.4,934.4Z" fill="#959595"/>
<path d="M307.4,928.2 L310.34,928.16 L313.29,928.12 L316.23,928.09 L319.17,928.05 L322.12,928.01 L325.06,927.97 L328,927.93 L330.95,927.89 L333.89,927.86 L336.83,927.82 L339.78,927.78 L342.72,927.74 L345.66,927.7 L348.61,927.66 L351.55,927.62 L354.49,927.59 L357.44,927.55 L360.38,927.51 L363.32,927.47 L366.27,927.43 L369.21,927.4 L372.15,927.36 L375.1,927.32 L378.04,927.28 L380.98,927.24 L383.93,927.2 L386.87,927.17 L389.81,927.13 L392.76,927.09 L395.7,927.05 L398.64,927.01 L401.59,926.97 L404.53,926.94 L407.47,926.9 L410.42,926.86 L413.36,926.82 L416.3,926.78 L419.25,926.74 L422.19,926.71 L425.13,926.67 L428.08,926.63 L431.02,926.59 L433.96,926.55 L436.91,926.51 L439.85,926.48 L442.79,926.44 L445.74,926.4 L448.68,926.36 L451.62,926.32 L454.57,926.28 L457.51,926.25 L460.45,926.21 L463.4,926.17 L466.34,926.13 L469.28,926.09 L472.23,926.05 L475.17,926.02 L478.11,925.98 L481.06,925.94 L484,925.9 L484,929.5 L481.06,929.54 L478.11,929.58 L475.17,929.62 L472.23,929.65 L469.28,929.69 L466.34,929.73 L463.4,929.77 L460.45,929.81 L457.51,929.85 L454.57,929.88 L451.62,929.92 L448.68,929.96 L445.74,930 L442.79,930.04 L439.85,930.08 L436.91,930.11 L433.96,930.15 L431.02,930.19 L428.08,930.23 L425.13,930.27 L422.19,930.3 L419.25,930.34 L416.3,930.38 L413.36,930.42 L410.42,930.46 L407.47,930.5 L404.53,930.53 L401.59,930.57 L398.64,930.61 L395.7,930.65 L392.76,930.69 L389.81,930.73 L386.87,930.76 L383.93,930.8 L380.98,930.84 L378.04,930.88 L375.1,930.92 L372.15,930.96 L369.21,931 L366.27,931.03 L363.32,931.07 L360.38,931.11 L357.44,931.15 L354.49,931.19 L351.55,931.22 L348.61,931.26 L345.66,931.3 L342.72,931.34 L339.78,931.38 L336.83,931.42 L333.89,931.45 L330.95,931.49 L328,931.53 L325.06,931.57 L322.12,931.61 L319.17,931.65 L316.23,931.68 L313.29,931.72 L310.34,931.76 L307.4,931.8Z" fill="#c3c3c3" fill-opacity="0.686"/>
<path d="M307.4,930 L484,927.7" fill="none" stroke="#000" stroke-width="1.5" stroke-dasharray="2 2.3"/>
<path d="M307.4,932.9 C322,932.67 365.57,932.32 395,931.5 C424.43,930.68 469.17,928.58 484,928" fill="none" stroke="#000" stroke-width="3.6" stroke-linecap="round" stroke-linejoin="round"/>
<rect x="294.05" y="933.55" width="8.3" height="8.3" fill="#000"/>
<path d="M302.9,916.9 L308,922 L302.9,927.1 L297.8,922 Z" fill="#000"/>
<path d="M493,917.5 L498.3,926.5 L487.7,926.5 Z" fill="#000"/>
<path d="M482.7,930.4 L493.3,930.4 L488,939.4 Z" fill="#000"/>
</g>
<g>
<path d="M521.8,925.6 L523.37,925.54 L525.12,925.46 L527.05,925.37 L529.15,925.27 L531.4,925.16 L533.8,925.04 L536.34,924.91 L539,924.78 L541.78,924.64 L544.67,924.5 L547.66,924.35 L550.74,924.2 L553.89,924.04 L557.12,923.89 L560.4,923.74 L563.73,923.59 L567.1,923.44 L570.5,923.29 L573.92,923.15 L577.35,923.01 L580.78,922.89 L584.19,922.77 L587.59,922.65 L590.96,922.55 L594.29,922.46 L597.57,922.38 L600.79,922.31 L603.94,922.26 L607.02,922.22 L610,922.2 L612.98,922.19 L616.05,922.2 L619.2,922.23 L622.42,922.27 L625.7,922.32 L629.02,922.38 L632.38,922.45 L635.78,922.53 L639.19,922.62 L642.61,922.72 L646.03,922.82 L649.44,922.93 L652.83,923.05 L656.19,923.17 L659.51,923.29 L662.79,923.41 L666,923.54 L669.15,923.66 L672.21,923.78 L675.19,923.9 L678.07,924.02 L680.85,924.14 L683.51,924.25 L686.04,924.35 L688.43,924.45 L690.67,924.54 L692.76,924.62 L694.69,924.69 L696.44,924.75 L698,924.8 L698,927.8 L696.44,927.75 L694.69,927.69 L692.76,927.62 L690.67,927.54 L688.43,927.45 L686.04,927.35 L683.51,927.25 L680.85,927.14 L678.07,927.02 L675.19,926.9 L672.21,926.78 L669.15,926.66 L666,926.54 L662.79,926.41 L659.51,926.29 L656.19,926.17 L652.83,926.05 L649.44,925.93 L646.03,925.82 L642.61,925.72 L639.19,925.62 L635.78,925.53 L632.38,925.45 L629.02,925.38 L625.7,925.32 L622.42,925.27 L619.2,925.23 L616.05,925.2 L612.98,925.19 L610,925.2 L607.02,925.22 L603.94,925.26 L600.79,925.31 L597.57,925.38 L594.29,925.46 L590.96,925.55 L587.59,925.65 L584.19,925.77 L580.78,925.89 L577.35,926.01 L573.92,926.15 L570.5,926.29 L567.1,926.44 L563.73,926.59 L560.4,926.74 L557.12,926.89 L553.89,927.04 L550.74,927.2 L547.66,927.35 L544.67,927.5 L541.78,927.64 L539,927.78 L536.34,927.91 L533.8,928.04 L531.4,928.16 L529.15,928.27 L527.05,928.37 L525.12,928.46 L523.37,928.54 L521.8,928.6Z" fill="#959595"/>
<path d="M521.8,921.9 L523.37,921.91 L525.12,921.93 L527.05,921.94 L529.15,921.96 L531.4,921.98 L533.8,921.99 L536.34,922.01 L539,922.03 L541.78,922.05 L544.67,922.07 L547.66,922.09 L550.74,922.11 L553.89,922.14 L557.12,922.16 L560.4,922.19 L563.73,922.21 L567.1,922.24 L570.5,922.27 L573.92,922.3 L577.35,922.33 L580.78,922.36 L584.19,922.39 L587.59,922.43 L590.96,922.46 L594.29,922.5 L597.57,922.54 L600.79,922.58 L603.94,922.62 L607.02,922.66 L610,922.7 L612.98,922.75 L616.05,922.79 L619.2,922.85 L622.42,922.9 L625.7,922.96 L629.02,923.02 L632.38,923.09 L635.78,923.16 L639.19,923.22 L642.61,923.29 L646.03,923.36 L649.44,923.43 L652.83,923.51 L656.19,923.58 L659.51,923.65 L662.79,923.72 L666,923.79 L669.15,923.86 L672.21,923.93 L675.19,924 L678.07,924.06 L680.85,924.12 L683.51,924.18 L686.04,924.24 L688.43,924.29 L690.67,924.34 L692.76,924.39 L694.69,924.43 L696.44,924.47 L698,924.5 L698,928.1 L696.44,928.07 L694.69,928.03 L692.76,927.99 L690.67,927.94 L688.43,927.89 L686.04,927.84 L683.51,927.78 L680.85,927.72 L678.07,927.66 L675.19,927.6 L672.21,927.53 L669.15,927.46 L666,927.39 L662.79,927.32 L659.51,927.25 L656.19,927.18 L652.83,927.11 L649.44,927.03 L646.03,926.96 L642.61,926.89 L639.19,926.82 L635.78,926.76 L632.38,926.69 L629.02,926.62 L625.7,926.56 L622.42,926.5 L619.2,926.45 L616.05,926.39 L612.98,926.35 L610,926.3 L607.02,926.26 L603.94,926.22 L600.79,926.18 L597.57,926.14 L594.29,926.1 L590.96,926.06 L587.59,926.03 L584.19,925.99 L580.78,925.96 L577.35,925.93 L573.92,925.9 L570.5,925.87 L567.1,925.84 L563.73,925.81 L560.4,925.79 L557.12,925.76 L553.89,925.74 L550.74,925.71 L547.66,925.69 L544.67,925.67 L541.78,925.65 L539,925.63 L536.34,925.61 L533.8,925.59 L531.4,925.58 L529.15,925.56 L527.05,925.54 L525.12,925.53 L523.37,925.51 L521.8,925.5Z" fill="#c3c3c3" fill-opacity="0.686"/>
<path d="M521.8,923.7 C536.5,923.83 580.63,924.07 610,924.5 C639.37,924.93 683.33,926 698,926.3" fill="none" stroke="#000" stroke-width="1.5" stroke-dasharray="2 2.3"/>
<path d="M521.8,927.1 C536.5,926.53 580.63,923.83 610,923.7 C639.37,923.57 683.33,925.87 698,926.3" fill="none" stroke="#000" stroke-width="3.6" stroke-linecap="round" stroke-linejoin="round"/>
<rect x="508.45" y="925.25" width="8.3" height="8.3" fill="#000"/>
<path d="M517.5,914.3 L522.6,919.4 L517.5,924.5 L512.4,919.4 Z" fill="#000"/>
<path d="M708,912.6 L713.3,921.6 L702.7,921.6 Z" fill="#000"/>
<path d="M697.7,930.6 L708.3,930.6 L703,939.6 Z" fill="#000"/>
</g>
<rect x="74.5" y="28.5" width="642.5" height="1071.8" fill="none" stroke="#000" stroke-width="1.3"/>
<line x1="289.0" y1="28.5" x2="289.0" y2="1100.3" stroke="#3a3a3a" stroke-width="2"/>
<line x1="502.4" y1="28.5" x2="502.4" y2="1100.3" stroke="#3a3a3a" stroke-width="2"/>
<line x1="74.5" y1="243.3" x2="717.0" y2="243.3" stroke="#000" stroke-width="1.3"/>
<line x1="74.5" y1="457.2" x2="717.0" y2="457.2" stroke="#000" stroke-width="1.3"/>
<line x1="74.5" y1="671.3" x2="717.0" y2="671.3" stroke="#000" stroke-width="1.3"/>
<line x1="74.5" y1="885.7" x2="717.0" y2="885.7" stroke="#000" stroke-width="1.3"/>
<line x1="74.5" y1="225" x2="78.3" y2="225" stroke="#000" stroke-width="1.3"/>
<line x1="285.2" y1="225" x2="292.8" y2="225" stroke="#000" stroke-width="1.3"/>
<line x1="498.6" y1="225" x2="506.2" y2="225" stroke="#000" stroke-width="1.3"/>
<line x1="713.2" y1="225" x2="717.0" y2="225" stroke="#000" stroke-width="1.3"/>
<line x1="74.5" y1="191.26" x2="78.3" y2="191.26" stroke="#000" stroke-width="1.3"/>
<line x1="285.2" y1="191.26" x2="292.8" y2="191.26" stroke="#000" stroke-width="1.3"/>
<line x1="498.6" y1="191.26" x2="506.2" y2="191.26" stroke="#000" stroke-width="1.3"/>
<line x1="713.2" y1="191.26" x2="717.0" y2="191.26" stroke="#000" stroke-width="1.3"/>
<line x1="74.5" y1="157.52" x2="78.3" y2="157.52" stroke="#000" stroke-width="1.3"/>
<line x1="285.2" y1="157.52" x2="292.8" y2="157.52" stroke="#000" stroke-width="1.3"/>
<line x1="498.6" y1="157.52" x2="506.2" y2="157.52" stroke="#000" stroke-width="1.3"/>
<line x1="713.2" y1="157.52" x2="717.0" y2="157.52" stroke="#000" stroke-width="1.3"/>
<line x1="74.5" y1="123.78" x2="78.3" y2="123.78" stroke="#000" stroke-width="1.3"/>
<line x1="285.2" y1="123.78" x2="292.8" y2="123.78" stroke="#000" stroke-width="1.3"/>
<line x1="498.6" y1="123.78" x2="506.2" y2="123.78" stroke="#000" stroke-width="1.3"/>
<line x1="713.2" y1="123.78" x2="717.0" y2="123.78" stroke="#000" stroke-width="1.3"/>
<line x1="74.5" y1="90.04" x2="78.3" y2="90.04" stroke="#000" stroke-width="1.3"/>
<line x1="285.2" y1="90.04" x2="292.8" y2="90.04" stroke="#000" stroke-width="1.3"/>
<line x1="498.6" y1="90.04" x2="506.2" y2="90.04" stroke="#000" stroke-width="1.3"/>
<line x1="713.2" y1="90.04" x2="717.0" y2="90.04" stroke="#000" stroke-width="1.3"/>
<line x1="74.5" y1="56.3" x2="78.3" y2="56.3" stroke="#000" stroke-width="1.3"/>
<line x1="285.2" y1="56.3" x2="292.8" y2="56.3" stroke="#000" stroke-width="1.3"/>
<line x1="498.6" y1="56.3" x2="506.2" y2="56.3" stroke="#000" stroke-width="1.3"/>
<line x1="713.2" y1="56.3" x2="717.0" y2="56.3" stroke="#000" stroke-width="1.3"/>
<line x1="74.5" y1="439.5" x2="78.3" y2="439.5" stroke="#000" stroke-width="1.3"/>
<line x1="285.2" y1="439.5" x2="292.8" y2="439.5" stroke="#000" stroke-width="1.3"/>
<line x1="498.6" y1="439.5" x2="506.2" y2="439.5" stroke="#000" stroke-width="1.3"/>
<line x1="713.2" y1="439.5" x2="717.0" y2="439.5" stroke="#000" stroke-width="1.3"/>
<line x1="74.5" y1="405.76" x2="78.3" y2="405.76" stroke="#000" stroke-width="1.3"/>
<line x1="285.2" y1="405.76" x2="292.8" y2="405.76" stroke="#000" stroke-width="1.3"/>
<line x1="498.6" y1="405.76" x2="506.2" y2="405.76" stroke="#000" stroke-width="1.3"/>
<line x1="713.2" y1="405.76" x2="717.0" y2="405.76" stroke="#000" stroke-width="1.3"/>
<line x1="74.5" y1="372.02" x2="78.3" y2="372.02" stroke="#000" stroke-width="1.3"/>
<line x1="285.2" y1="372.02" x2="292.8" y2="372.02" stroke="#000" stroke-width="1.3"/>
<line x1="498.6" y1="372.02" x2="506.2" y2="372.02" stroke="#000" stroke-width="1.3"/>
<line x1="713.2" y1="372.02" x2="717.0" y2="372.02" stroke="#000" stroke-width="1.3"/>
<line x1="74.5" y1="338.28" x2="78.3" y2="338.28" stroke="#000" stroke-width="1.3"/>
<line x1="285.2" y1="338.28" x2="292.8" y2="338.28" stroke="#000" stroke-width="1.3"/>
<line x1="498.6" y1="338.28" x2="506.2" y2="338.28" stroke="#000" stroke-width="1.3"/>
<line x1="713.2" y1="338.28" x2="717.0" y2="338.28" stroke="#000" stroke-width="1.3"/>
<line x1="74.5" y1="304.54" x2="78.3" y2="304.54" stroke="#000" stroke-width="1.3"/>
<line x1="285.2" y1="304.54" x2="292.8" y2="304.54" stroke="#000" stroke-width="1.3"/>
<line x1="498.6" y1="304.54" x2="506.2" y2="304.54" stroke="#000" stroke-width="1.3"/>
<line x1="713.2" y1="304.54" x2="717.0" y2="304.54" stroke="#000" stroke-width="1.3"/>
<line x1="74.5" y1="270.8" x2="78.3" y2="270.8" stroke="#000" stroke-width="1.3"/>
<line x1="285.2" y1="270.8" x2="292.8" y2="270.8" stroke="#000" stroke-width="1.3"/>
<line x1="498.6" y1="270.8" x2="506.2" y2="270.8" stroke="#000" stroke-width="1.3"/>
<line x1="713.2" y1="270.8" x2="717.0" y2="270.8" stroke="#000" stroke-width="1.3"/>
<line x1="74.5" y1="653.6" x2="78.3" y2="653.6" stroke="#000" stroke-width="1.3"/>
<line x1="285.2" y1="653.6" x2="292.8" y2="653.6" stroke="#000" stroke-width="1.3"/>
<line x1="498.6" y1="653.6" x2="506.2" y2="653.6" stroke="#000" stroke-width="1.3"/>
<line x1="713.2" y1="653.6" x2="717.0" y2="653.6" stroke="#000" stroke-width="1.3"/>
<line x1="74.5" y1="618.22" x2="78.3" y2="618.22" stroke="#000" stroke-width="1.3"/>
<line x1="285.2" y1="618.22" x2="292.8" y2="618.22" stroke="#000" stroke-width="1.3"/>
<line x1="498.6" y1="618.22" x2="506.2" y2="618.22" stroke="#000" stroke-width="1.3"/>
<line x1="713.2" y1="618.22" x2="717.0" y2="618.22" stroke="#000" stroke-width="1.3"/>
<line x1="74.5" y1="582.84" x2="78.3" y2="582.84" stroke="#000" stroke-width="1.3"/>
<line x1="285.2" y1="582.84" x2="292.8" y2="582.84" stroke="#000" stroke-width="1.3"/>
<line x1="498.6" y1="582.84" x2="506.2" y2="582.84" stroke="#000" stroke-width="1.3"/>
<line x1="713.2" y1="582.84" x2="717.0" y2="582.84" stroke="#000" stroke-width="1.3"/>
<line x1="74.5" y1="547.46" x2="78.3" y2="547.46" stroke="#000" stroke-width="1.3"/>
<line x1="285.2" y1="547.46" x2="292.8" y2="547.46" stroke="#000" stroke-width="1.3"/>
<line x1="498.6" y1="547.46" x2="506.2" y2="547.46" stroke="#000" stroke-width="1.3"/>
<line x1="713.2" y1="547.46" x2="717.0" y2="547.46" stroke="#000" stroke-width="1.3"/>
<line x1="74.5" y1="512.08" x2="78.3" y2="512.08" stroke="#000" stroke-width="1.3"/>
<line x1="285.2" y1="512.08" x2="292.8" y2="512.08" stroke="#000" stroke-width="1.3"/>
<line x1="498.6" y1="512.08" x2="506.2" y2="512.08" stroke="#000" stroke-width="1.3"/>
<line x1="713.2" y1="512.08" x2="717.0" y2="512.08" stroke="#000" stroke-width="1.3"/>
<line x1="74.5" y1="476.7" x2="78.3" y2="476.7" stroke="#000" stroke-width="1.3"/>
<line x1="285.2" y1="476.7" x2="292.8" y2="476.7" stroke="#000" stroke-width="1.3"/>
<line x1="498.6" y1="476.7" x2="506.2" y2="476.7" stroke="#000" stroke-width="1.3"/>
<line x1="713.2" y1="476.7" x2="717.0" y2="476.7" stroke="#000" stroke-width="1.3"/>
<line x1="74.5" y1="867.3" x2="78.3" y2="867.3" stroke="#000" stroke-width="1.3"/>
<line x1="285.2" y1="867.3" x2="292.8" y2="867.3" stroke="#000" stroke-width="1.3"/>
<line x1="498.6" y1="867.3" x2="506.2" y2="867.3" stroke="#000" stroke-width="1.3"/>
<line x1="713.2" y1="867.3" x2="717.0" y2="867.3" stroke="#000" stroke-width="1.3"/>
<line x1="74.5" y1="832.72" x2="78.3" y2="832.72" stroke="#000" stroke-width="1.3"/>
<line x1="285.2" y1="832.72" x2="292.8" y2="832.72" stroke="#000" stroke-width="1.3"/>
<line x1="498.6" y1="832.72" x2="506.2" y2="832.72" stroke="#000" stroke-width="1.3"/>
<line x1="713.2" y1="832.72" x2="717.0" y2="832.72" stroke="#000" stroke-width="1.3"/>
<line x1="74.5" y1="798.14" x2="78.3" y2="798.14" stroke="#000" stroke-width="1.3"/>
<line x1="285.2" y1="798.14" x2="292.8" y2="798.14" stroke="#000" stroke-width="1.3"/>
<line x1="498.6" y1="798.14" x2="506.2" y2="798.14" stroke="#000" stroke-width="1.3"/>
<line x1="713.2" y1="798.14" x2="717.0" y2="798.14" stroke="#000" stroke-width="1.3"/>
<line x1="74.5" y1="763.56" x2="78.3" y2="763.56" stroke="#000" stroke-width="1.3"/>
<line x1="285.2" y1="763.56" x2="292.8" y2="763.56" stroke="#000" stroke-width="1.3"/>
<line x1="498.6" y1="763.56" x2="506.2" y2="763.56" stroke="#000" stroke-width="1.3"/>
<line x1="713.2" y1="763.56" x2="717.0" y2="763.56" stroke="#000" stroke-width="1.3"/>
<line x1="74.5" y1="728.98" x2="78.3" y2="728.98" stroke="#000" stroke-width="1.3"/>
<line x1="285.2" y1="728.98" x2="292.8" y2="728.98" stroke="#000" stroke-width="1.3"/>
<line x1="498.6" y1="728.98" x2="506.2" y2="728.98" stroke="#000" stroke-width="1.3"/>
<line x1="713.2" y1="728.98" x2="717.0" y2="728.98" stroke="#000" stroke-width="1.3"/>
<line x1="74.5" y1="694.4" x2="78.3" y2="694.4" stroke="#000" stroke-width="1.3"/>
<line x1="285.2" y1="694.4" x2="292.8" y2="694.4" stroke="#000" stroke-width="1.3"/>
<line x1="498.6" y1="694.4" x2="506.2" y2="694.4" stroke="#000" stroke-width="1.3"/>
<line x1="713.2" y1="694.4" x2="717.0" y2="694.4" stroke="#000" stroke-width="1.3"/>
<line x1="74.5" y1="1082.6" x2="78.3" y2="1082.6" stroke="#000" stroke-width="1.3"/>
<line x1="285.2" y1="1082.6" x2="292.8" y2="1082.6" stroke="#000" stroke-width="1.3"/>
<line x1="498.6" y1="1082.6" x2="506.2" y2="1082.6" stroke="#000" stroke-width="1.3"/>
<line x1="713.2" y1="1082.6" x2="717.0" y2="1082.6" stroke="#000" stroke-width="1.3"/>
<line x1="74.5" y1="1047.92" x2="78.3" y2="1047.92" stroke="#000" stroke-width="1.3"/>
<line x1="285.2" y1="1047.92" x2="292.8" y2="1047.92" stroke="#000" stroke-width="1.3"/>
<line x1="498.6" y1="1047.92" x2="506.2" y2="1047.92" stroke="#000" stroke-width="1.3"/>
<line x1="713.2" y1="1047.92" x2="717.0" y2="1047.92" stroke="#000" stroke-width="1.3"/>
<line x1="74.5" y1="1013.24" x2="78.3" y2="1013.24" stroke="#000" stroke-width="1.3"/>
<line x1="285.2" y1="1013.24" x2="292.8" y2="1013.24" stroke="#000" stroke-width="1.3"/>
<line x1="498.6" y1="1013.24" x2="506.2" y2="1013.24" stroke="#000" stroke-width="1.3"/>
<line x1="713.2" y1="1013.24" x2="717.0" y2="1013.24" stroke="#000" stroke-width="1.3"/>
<line x1="74.5" y1="978.56" x2="78.3" y2="978.56" stroke="#000" stroke-width="1.3"/>
<line x1="285.2" y1="978.56" x2="292.8" y2="978.56" stroke="#000" stroke-width="1.3"/>
<line x1="498.6" y1="978.56" x2="506.2" y2="978.56" stroke="#000" stroke-width="1.3"/>
<line x1="713.2" y1="978.56" x2="717.0" y2="978.56" stroke="#000" stroke-width="1.3"/>
<line x1="74.5" y1="943.88" x2="78.3" y2="943.88" stroke="#000" stroke-width="1.3"/>
<line x1="285.2" y1="943.88" x2="292.8" y2="943.88" stroke="#000" stroke-width="1.3"/>
<line x1="498.6" y1="943.88" x2="506.2" y2="943.88" stroke="#000" stroke-width="1.3"/>
<line x1="713.2" y1="943.88" x2="717.0" y2="943.88" stroke="#000" stroke-width="1.3"/>
<line x1="74.5" y1="909.2" x2="78.3" y2="909.2" stroke="#000" stroke-width="1.3"/>
<line x1="285.2" y1="909.2" x2="292.8" y2="909.2" stroke="#000" stroke-width="1.3"/>
<line x1="498.6" y1="909.2" x2="506.2" y2="909.2" stroke="#000" stroke-width="1.3"/>
<line x1="713.2" y1="909.2" x2="717.0" y2="909.2" stroke="#000" stroke-width="1.3"/>
<line x1="92.8" y1="28.5" x2="92.8" y2="32.3" stroke="#000" stroke-width="1.3"/>
<line x1="92.8" y1="239.5" x2="92.8" y2="247.1" stroke="#000" stroke-width="1.3"/>
<line x1="92.8" y1="453.4" x2="92.8" y2="461" stroke="#000" stroke-width="1.3"/>
<line x1="92.8" y1="667.5" x2="92.8" y2="675.1" stroke="#000" stroke-width="1.3"/>
<line x1="92.8" y1="881.9" x2="92.8" y2="889.5" stroke="#000" stroke-width="1.3"/>
<line x1="92.8" y1="1096.5" x2="92.8" y2="1100.3" stroke="#000" stroke-width="1.3"/>
<line x1="128.18" y1="28.5" x2="128.18" y2="32.3" stroke="#000" stroke-width="1.3"/>
<line x1="128.18" y1="239.5" x2="128.18" y2="247.1" stroke="#000" stroke-width="1.3"/>
<line x1="128.18" y1="453.4" x2="128.18" y2="461" stroke="#000" stroke-width="1.3"/>
<line x1="128.18" y1="667.5" x2="128.18" y2="675.1" stroke="#000" stroke-width="1.3"/>
<line x1="128.18" y1="881.9" x2="128.18" y2="889.5" stroke="#000" stroke-width="1.3"/>
<line x1="128.18" y1="1096.5" x2="128.18" y2="1100.3" stroke="#000" stroke-width="1.3"/>
<line x1="163.56" y1="28.5" x2="163.56" y2="32.3" stroke="#000" stroke-width="1.3"/>
<line x1="163.56" y1="239.5" x2="163.56" y2="247.1" stroke="#000" stroke-width="1.3"/>
<line x1="163.56" y1="453.4" x2="163.56" y2="461" stroke="#000" stroke-width="1.3"/>
<line x1="163.56" y1="667.5" x2="163.56" y2="675.1" stroke="#000" stroke-width="1.3"/>
<line x1="163.56" y1="881.9" x2="163.56" y2="889.5" stroke="#000" stroke-width="1.3"/>
<line x1="163.56" y1="1096.5" x2="163.56" y2="1100.3" stroke="#000" stroke-width="1.3"/>
<line x1="198.94" y1="28.5" x2="198.94" y2="32.3" stroke="#000" stroke-width="1.3"/>
<line x1="198.94" y1="239.5" x2="198.94" y2="247.1" stroke="#000" stroke-width="1.3"/>
<line x1="198.94" y1="453.4" x2="198.94" y2="461" stroke="#000" stroke-width="1.3"/>
<line x1="198.94" y1="667.5" x2="198.94" y2="675.1" stroke="#000" stroke-width="1.3"/>
<line x1="198.94" y1="881.9" x2="198.94" y2="889.5" stroke="#000" stroke-width="1.3"/>
<line x1="198.94" y1="1096.5" x2="198.94" y2="1100.3" stroke="#000" stroke-width="1.3"/>
<line x1="234.32" y1="28.5" x2="234.32" y2="32.3" stroke="#000" stroke-width="1.3"/>
<line x1="234.32" y1="239.5" x2="234.32" y2="247.1" stroke="#000" stroke-width="1.3"/>
<line x1="234.32" y1="453.4" x2="234.32" y2="461" stroke="#000" stroke-width="1.3"/>
<line x1="234.32" y1="667.5" x2="234.32" y2="675.1" stroke="#000" stroke-width="1.3"/>
<line x1="234.32" y1="881.9" x2="234.32" y2="889.5" stroke="#000" stroke-width="1.3"/>
<line x1="234.32" y1="1096.5" x2="234.32" y2="1100.3" stroke="#000" stroke-width="1.3"/>
<line x1="269.7" y1="28.5" x2="269.7" y2="32.3" stroke="#000" stroke-width="1.3"/>
<line x1="269.7" y1="239.5" x2="269.7" y2="247.1" stroke="#000" stroke-width="1.3"/>
<line x1="269.7" y1="453.4" x2="269.7" y2="461" stroke="#000" stroke-width="1.3"/>
<line x1="269.7" y1="667.5" x2="269.7" y2="675.1" stroke="#000" stroke-width="1.3"/>
<line x1="269.7" y1="881.9" x2="269.7" y2="889.5" stroke="#000" stroke-width="1.3"/>
<line x1="269.7" y1="1096.5" x2="269.7" y2="1100.3" stroke="#000" stroke-width="1.3"/>
<line x1="307.4" y1="28.5" x2="307.4" y2="32.3" stroke="#000" stroke-width="1.3"/>
<line x1="307.4" y1="239.5" x2="307.4" y2="247.1" stroke="#000" stroke-width="1.3"/>
<line x1="307.4" y1="453.4" x2="307.4" y2="461" stroke="#000" stroke-width="1.3"/>
<line x1="307.4" y1="667.5" x2="307.4" y2="675.1" stroke="#000" stroke-width="1.3"/>
<line x1="307.4" y1="881.9" x2="307.4" y2="889.5" stroke="#000" stroke-width="1.3"/>
<line x1="307.4" y1="1096.5" x2="307.4" y2="1100.3" stroke="#000" stroke-width="1.3"/>
<line x1="342.72" y1="28.5" x2="342.72" y2="32.3" stroke="#000" stroke-width="1.3"/>
<line x1="342.72" y1="239.5" x2="342.72" y2="247.1" stroke="#000" stroke-width="1.3"/>
<line x1="342.72" y1="453.4" x2="342.72" y2="461" stroke="#000" stroke-width="1.3"/>
<line x1="342.72" y1="667.5" x2="342.72" y2="675.1" stroke="#000" stroke-width="1.3"/>
<line x1="342.72" y1="881.9" x2="342.72" y2="889.5" stroke="#000" stroke-width="1.3"/>
<line x1="342.72" y1="1096.5" x2="342.72" y2="1100.3" stroke="#000" stroke-width="1.3"/>
<line x1="378.04" y1="28.5" x2="378.04" y2="32.3" stroke="#000" stroke-width="1.3"/>
<line x1="378.04" y1="239.5" x2="378.04" y2="247.1" stroke="#000" stroke-width="1.3"/>
<line x1="378.04" y1="453.4" x2="378.04" y2="461" stroke="#000" stroke-width="1.3"/>
<line x1="378.04" y1="667.5" x2="378.04" y2="675.1" stroke="#000" stroke-width="1.3"/>
<line x1="378.04" y1="881.9" x2="378.04" y2="889.5" stroke="#000" stroke-width="1.3"/>
<line x1="378.04" y1="1096.5" x2="378.04" y2="1100.3" stroke="#000" stroke-width="1.3"/>
<line x1="413.36" y1="28.5" x2="413.36" y2="32.3" stroke="#000" stroke-width="1.3"/>
<line x1="413.36" y1="239.5" x2="413.36" y2="247.1" stroke="#000" stroke-width="1.3"/>
<line x1="413.36" y1="453.4" x2="413.36" y2="461" stroke="#000" stroke-width="1.3"/>
<line x1="413.36" y1="667.5" x2="413.36" y2="675.1" stroke="#000" stroke-width="1.3"/>
<line x1="413.36" y1="881.9" x2="413.36" y2="889.5" stroke="#000" stroke-width="1.3"/>
<line x1="413.36" y1="1096.5" x2="413.36" y2="1100.3" stroke="#000" stroke-width="1.3"/>
<line x1="448.68" y1="28.5" x2="448.68" y2="32.3" stroke="#000" stroke-width="1.3"/>
<line x1="448.68" y1="239.5" x2="448.68" y2="247.1" stroke="#000" stroke-width="1.3"/>
<line x1="448.68" y1="453.4" x2="448.68" y2="461" stroke="#000" stroke-width="1.3"/>
<line x1="448.68" y1="667.5" x2="448.68" y2="675.1" stroke="#000" stroke-width="1.3"/>
<line x1="448.68" y1="881.9" x2="448.68" y2="889.5" stroke="#000" stroke-width="1.3"/>
<line x1="448.68" y1="1096.5" x2="448.68" y2="1100.3" stroke="#000" stroke-width="1.3"/>
<line x1="484" y1="28.5" x2="484" y2="32.3" stroke="#000" stroke-width="1.3"/>
<line x1="484" y1="239.5" x2="484" y2="247.1" stroke="#000" stroke-width="1.3"/>
<line x1="484" y1="453.4" x2="484" y2="461" stroke="#000" stroke-width="1.3"/>
<line x1="484" y1="667.5" x2="484" y2="675.1" stroke="#000" stroke-width="1.3"/>
<line x1="484" y1="881.9" x2="484" y2="889.5" stroke="#000" stroke-width="1.3"/>
<line x1="484" y1="1096.5" x2="484" y2="1100.3" stroke="#000" stroke-width="1.3"/>
<line x1="521.8" y1="28.5" x2="521.8" y2="32.3" stroke="#000" stroke-width="1.3"/>
<line x1="521.8" y1="239.5" x2="521.8" y2="247.1" stroke="#000" stroke-width="1.3"/>
<line x1="521.8" y1="453.4" x2="521.8" y2="461" stroke="#000" stroke-width="1.3"/>
<line x1="521.8" y1="667.5" x2="521.8" y2="675.1" stroke="#000" stroke-width="1.3"/>
<line x1="521.8" y1="881.9" x2="521.8" y2="889.5" stroke="#000" stroke-width="1.3"/>
<line x1="521.8" y1="1096.5" x2="521.8" y2="1100.3" stroke="#000" stroke-width="1.3"/>
<line x1="557.1" y1="28.5" x2="557.1" y2="32.3" stroke="#000" stroke-width="1.3"/>
<line x1="557.1" y1="239.5" x2="557.1" y2="247.1" stroke="#000" stroke-width="1.3"/>
<line x1="557.1" y1="453.4" x2="557.1" y2="461" stroke="#000" stroke-width="1.3"/>
<line x1="557.1" y1="667.5" x2="557.1" y2="675.1" stroke="#000" stroke-width="1.3"/>
<line x1="557.1" y1="881.9" x2="557.1" y2="889.5" stroke="#000" stroke-width="1.3"/>
<line x1="557.1" y1="1096.5" x2="557.1" y2="1100.3" stroke="#000" stroke-width="1.3"/>
<line x1="592.4" y1="28.5" x2="592.4" y2="32.3" stroke="#000" stroke-width="1.3"/>
<line x1="592.4" y1="239.5" x2="592.4" y2="247.1" stroke="#000" stroke-width="1.3"/>
<line x1="592.4" y1="453.4" x2="592.4" y2="461" stroke="#000" stroke-width="1.3"/>
<line x1="592.4" y1="667.5" x2="592.4" y2="675.1" stroke="#000" stroke-width="1.3"/>
<line x1="592.4" y1="881.9" x2="592.4" y2="889.5" stroke="#000" stroke-width="1.3"/>
<line x1="592.4" y1="1096.5" x2="592.4" y2="1100.3" stroke="#000" stroke-width="1.3"/>
<line x1="627.7" y1="28.5" x2="627.7" y2="32.3" stroke="#000" stroke-width="1.3"/>
<line x1="627.7" y1="239.5" x2="627.7" y2="247.1" stroke="#000" stroke-width="1.3"/>
<line x1="627.7" y1="453.4" x2="627.7" y2="461" stroke="#000" stroke-width="1.3"/>
<line x1="627.7" y1="667.5" x2="627.7" y2="675.1" stroke="#000" stroke-width="1.3"/>
<line x1="627.7" y1="881.9" x2="627.7" y2="889.5" stroke="#000" stroke-width="1.3"/>
<line x1="627.7" y1="1096.5" x2="627.7" y2="1100.3" stroke="#000" stroke-width="1.3"/>
<line x1="663" y1="28.5" x2="663" y2="32.3" stroke="#000" stroke-width="1.3"/>
<line x1="663" y1="239.5" x2="663" y2="247.1" stroke="#000" stroke-width="1.3"/>
<line x1="663" y1="453.4" x2="663" y2="461" stroke="#000" stroke-width="1.3"/>
<line x1="663" y1="667.5" x2="663" y2="675.1" stroke="#000" stroke-width="1.3"/>
<line x1="663" y1="881.9" x2="663" y2="889.5" stroke="#000" stroke-width="1.3"/>
<line x1="663" y1="1096.5" x2="663" y2="1100.3" stroke="#000" stroke-width="1.3"/>
<line x1="698.3" y1="28.5" x2="698.3" y2="32.3" stroke="#000" stroke-width="1.3"/>
<line x1="698.3" y1="239.5" x2="698.3" y2="247.1" stroke="#000" stroke-width="1.3"/>
<line x1="698.3" y1="453.4" x2="698.3" y2="461" stroke="#000" stroke-width="1.3"/>
<line x1="698.3" y1="667.5" x2="698.3" y2="675.1" stroke="#000" stroke-width="1.3"/>
<line x1="698.3" y1="881.9" x2="698.3" y2="889.5" stroke="#000" stroke-width="1.3"/>
<line x1="698.3" y1="1096.5" x2="698.3" y2="1100.3" stroke="#000" stroke-width="1.3"/>
<text x="66.6" y="231.5" text-anchor="end" class="tk">0</text>
<text x="725.2" y="231.5" class="tk">0</text>
<text x="66.6" y="197.76" text-anchor="end" class="tk">20</text>
<text x="725.2" y="197.76" class="tk">20</text>
<text x="66.6" y="164.02" text-anchor="end" class="tk">40</text>
<text x="725.2" y="164.02" class="tk">40</text>
<text x="66.6" y="130.28" text-anchor="end" class="tk">60</text>
<text x="725.2" y="130.28" class="tk">60</text>
<text x="66.6" y="96.54" text-anchor="end" class="tk">80</text>
<text x="725.2" y="96.54" class="tk">80</text>
<text x="66.6" y="62.8" text-anchor="end" class="tk">100</text>
<text x="725.2" y="62.8" class="tk">100</text>
<text x="66.6" y="446" text-anchor="end" class="tk">0</text>
<text x="725.2" y="446" class="tk">0</text>
<text x="66.6" y="412.26" text-anchor="end" class="tk">20</text>
<text x="725.2" y="412.26" class="tk">20</text>
<text x="66.6" y="378.52" text-anchor="end" class="tk">40</text>
<text x="725.2" y="378.52" class="tk">40</text>
<text x="66.6" y="344.78" text-anchor="end" class="tk">60</text>
<text x="725.2" y="344.78" class="tk">60</text>
<text x="66.6" y="311.04" text-anchor="end" class="tk">80</text>
<text x="725.2" y="311.04" class="tk">80</text>
<text x="66.6" y="277.3" text-anchor="end" class="tk">100</text>
<text x="725.2" y="277.3" class="tk">100</text>
<text x="66.6" y="660.1" text-anchor="end" class="tk">0</text>
<text x="725.2" y="660.1" class="tk">0</text>
<text x="66.6" y="624.72" text-anchor="end" class="tk">20</text>
<text x="725.2" y="624.72" class="tk">20</text>
<text x="66.6" y="589.34" text-anchor="end" class="tk">40</text>
<text x="725.2" y="589.34" class="tk">40</text>
<text x="66.6" y="553.96" text-anchor="end" class="tk">60</text>
<text x="725.2" y="553.96" class="tk">60</text>
<text x="66.6" y="518.58" text-anchor="end" class="tk">80</text>
<text x="725.2" y="518.58" class="tk">80</text>
<text x="66.6" y="483.2" text-anchor="end" class="tk">100</text>
<text x="725.2" y="483.2" class="tk">100</text>
<text x="66.6" y="873.8" text-anchor="end" class="tk">0</text>
<text x="725.2" y="873.8" class="tk">0</text>
<text x="66.6" y="839.22" text-anchor="end" class="tk">20</text>
<text x="725.2" y="839.22" class="tk">20</text>
<text x="66.6" y="804.64" text-anchor="end" class="tk">40</text>
<text x="725.2" y="804.64" class="tk">40</text>
<text x="66.6" y="770.06" text-anchor="end" class="tk">60</text>
<text x="725.2" y="770.06" class="tk">60</text>
<text x="66.6" y="735.48" text-anchor="end" class="tk">80</text>
<text x="725.2" y="735.48" class="tk">80</text>
<text x="66.6" y="700.9" text-anchor="end" class="tk">100</text>
<text x="725.2" y="700.9" class="tk">100</text>
<text x="66.6" y="1089.1" text-anchor="end" class="tk">0</text>
<text x="725.2" y="1089.1" class="tk">0</text>
<text x="66.6" y="1054.42" text-anchor="end" class="tk">20</text>
<text x="725.2" y="1054.42" class="tk">20</text>
<text x="66.6" y="1019.74" text-anchor="end" class="tk">40</text>
<text x="725.2" y="1019.74" class="tk">40</text>
<text x="66.6" y="985.06" text-anchor="end" class="tk">60</text>
<text x="725.2" y="985.06" class="tk">60</text>
<text x="66.6" y="950.38" text-anchor="end" class="tk">80</text>
<text x="725.2" y="950.38" class="tk">80</text>
<text x="66.6" y="915.7" text-anchor="end" class="tk">100</text>
<text x="725.2" y="915.7" class="tk">100</text>
<text x="92.8" y="1123.5" text-anchor="middle" class="tk">0</text>
<text x="128.18" y="1123.5" text-anchor="middle" class="tk">0.2</text>
<text x="163.56" y="1123.5" text-anchor="middle" class="tk">0.4</text>
<text x="198.94" y="1123.5" text-anchor="middle" class="tk">0.6</text>
<text x="234.32" y="1123.5" text-anchor="middle" class="tk">0.8</text>
<text x="269.7" y="1123.5" text-anchor="middle" class="tk">1</text>
<text x="307.4" y="1123.5" text-anchor="middle" class="tk">0</text>
<text x="342.72" y="1123.5" text-anchor="middle" class="tk">0.2</text>
<text x="378.04" y="1123.5" text-anchor="middle" class="tk">0.4</text>
<text x="413.36" y="1123.5" text-anchor="middle" class="tk">0.6</text>
<text x="448.68" y="1123.5" text-anchor="middle" class="tk">0.8</text>
<text x="484" y="1123.5" text-anchor="middle" class="tk">1</text>
<text x="521.8" y="1123.5" text-anchor="middle" class="tk">0</text>
<text x="557.1" y="1123.5" text-anchor="middle" class="tk">0.2</text>
<text x="592.4" y="1123.5" text-anchor="middle" class="tk">0.4</text>
<text x="627.7" y="1123.5" text-anchor="middle" class="tk">0.6</text>
<text x="663" y="1123.5" text-anchor="middle" class="tk">0.8</text>
<text x="698.3" y="1123.5" text-anchor="middle" class="tk">1</text>
<text x="181.75" y="13.8" text-anchor="middle" class="h">N50</text>
<text x="395.7" y="13.8" text-anchor="middle" class="h">N150</text>
<text x="609.7" y="13.8" text-anchor="middle" class="h">N450</text>
<text x="84.90" y="53.50" style="font-size:14.0px;font-weight:bold;letter-spacing:0.2px;">(f)</text>
<text x="104.50" y="53.50" style="font-size:14.0px;font-weight:bold;letter-spacing:0.2px;">N</text>
<text x="118.50" y="53.50" style="font-size:14.0px;font-weight:bold;letter-spacing:0.2px;">efficiency</text>
<text x="85.50" y="73.10" style="font-size:13.5px;">100%</text>
<text x="124.60" y="73.10" style="font-size:13.5px;">=</text>
<text x="138.70" y="73.10" style="font-size:13.5px;">10.54</text>
<text x="85.00" y="268.60" style="font-size:14.0px;font-weight:bold;letter-spacing:0.2px;">(g)</text>
<text x="106.60" y="268.60" style="font-size:14.0px;font-weight:bold;letter-spacing:0.2px;">NO</text>
<text x="136.50" y="268.60" style="font-size:14.0px;font-weight:bold;letter-spacing:0.2px;">soil</text>
<text x="164.80" y="268.60" style="font-size:14.0px;font-weight:bold;letter-spacing:0.2px;">solution</text>
<text x="127.60" y="272.00" style="font-size:8.8px;">3</text>
<text x="85.50" y="291.40" style="font-size:13.5px;">100%</text>
<text x="124.60" y="291.40" style="font-size:13.5px;">=</text>
<text x="138.30" y="291.40" style="font-size:13.5px;">75.26</text>
<text x="176.00" y="291.40" style="font-size:13.5px;">mg</text>
<text x="199.90" y="291.40" style="font-size:13.5px;">N</text>
<text x="214.00" y="291.40" style="font-size:13.5px;">liter</text>
<text x="237.10" y="284.90" style="font-size:9.0px;">−1</text>
<text x="85.10" y="482.60" style="font-size:14.0px;font-weight:bold;letter-spacing:0.2px;">(h)</text>
<text x="106.60" y="482.60" style="font-size:14.0px;font-weight:bold;letter-spacing:0.2px;">Crude</text>
<text x="152.05" y="482.60" style="font-size:14.0px;font-weight:bold;letter-spacing:0.2px;">protein</text>
<text x="204.90" y="482.60" style="font-size:14.0px;font-weight:bold;letter-spacing:0.2px;">content</text>
<text x="85.50" y="505.10" style="font-size:13.5px;">100%</text>
<text x="124.60" y="505.10" style="font-size:13.5px;">=</text>
<text x="138.10" y="505.10" style="font-size:13.5px;">322.1</text>
<text x="176.50" y="505.10" style="font-size:13.5px;">g</text>
<text x="188.60" y="505.10" style="font-size:13.5px;">kg</text>
<text x="203.60" y="498.60" style="font-size:9.0px;">−1</text>
<text x="218.50" y="505.10" style="font-size:13.5px;">DM</text>
<text x="84.60" y="693.70" style="font-size:14.0px;font-weight:bold;letter-spacing:0.2px;">(i)</text>
<text x="103.40" y="693.70" style="font-size:14.0px;font-weight:bold;letter-spacing:0.2px;">OM</text>
<text x="130.40" y="693.70" style="font-size:14.0px;font-weight:bold;letter-spacing:0.2px;">digestibility</text>
<text x="85.40" y="745.70" style="font-size:13.5px;">100%</text>
<text x="124.60" y="745.70" style="font-size:13.5px;">=</text>
<text x="137.90" y="745.70" style="font-size:13.5px;">671.0</text>
<text x="176.50" y="745.70" style="font-size:13.5px;">g</text>
<text x="188.60" y="745.70" style="font-size:13.5px;">kg</text>
<text x="203.60" y="739.20" style="font-size:9.0px;">−1</text>
<text x="218.50" y="745.70" style="font-size:13.5px;">DM</text>
<text x="85.00" y="908.70" style="font-size:14.0px;font-weight:bold;letter-spacing:0.2px;">(k)</text>
<text x="106.30" y="908.70" style="font-size:14.0px;font-weight:bold;letter-spacing:0.2px;">Metabolisable</text>
<text x="206.80" y="908.70" style="font-size:14.0px;font-weight:bold;letter-spacing:0.2px;">energy</text>
<text x="85.50" y="964.30" style="font-size:13.5px;">100%</text>
<text x="124.60" y="964.30" style="font-size:13.5px;">=</text>
<text x="138.70" y="964.30" style="font-size:13.5px;">10.77</text>
<text x="176.70" y="964.30" style="font-size:13.5px;">MJ</text>
<text x="198.70" y="964.30" style="font-size:13.5px;">kg</text>
<text x="214.70" y="957.80" style="font-size:9.0px;">−1</text>
<text x="229.50" y="964.30" style="font-size:13.5px;">DM</text>
<text x="667.80" y="266.20" style="font-size:13.5px;">125%</text>
<text x="395.7" y="1158" text-anchor="middle" class="ax">Sown legume proportion</text>
<text transform="translate(16.7,559.5) rotate(-90)" x="0" y="0" text-anchor="middle" class="ax">Percent of maximal performance (%)</text>
</svg>
</body></html>
